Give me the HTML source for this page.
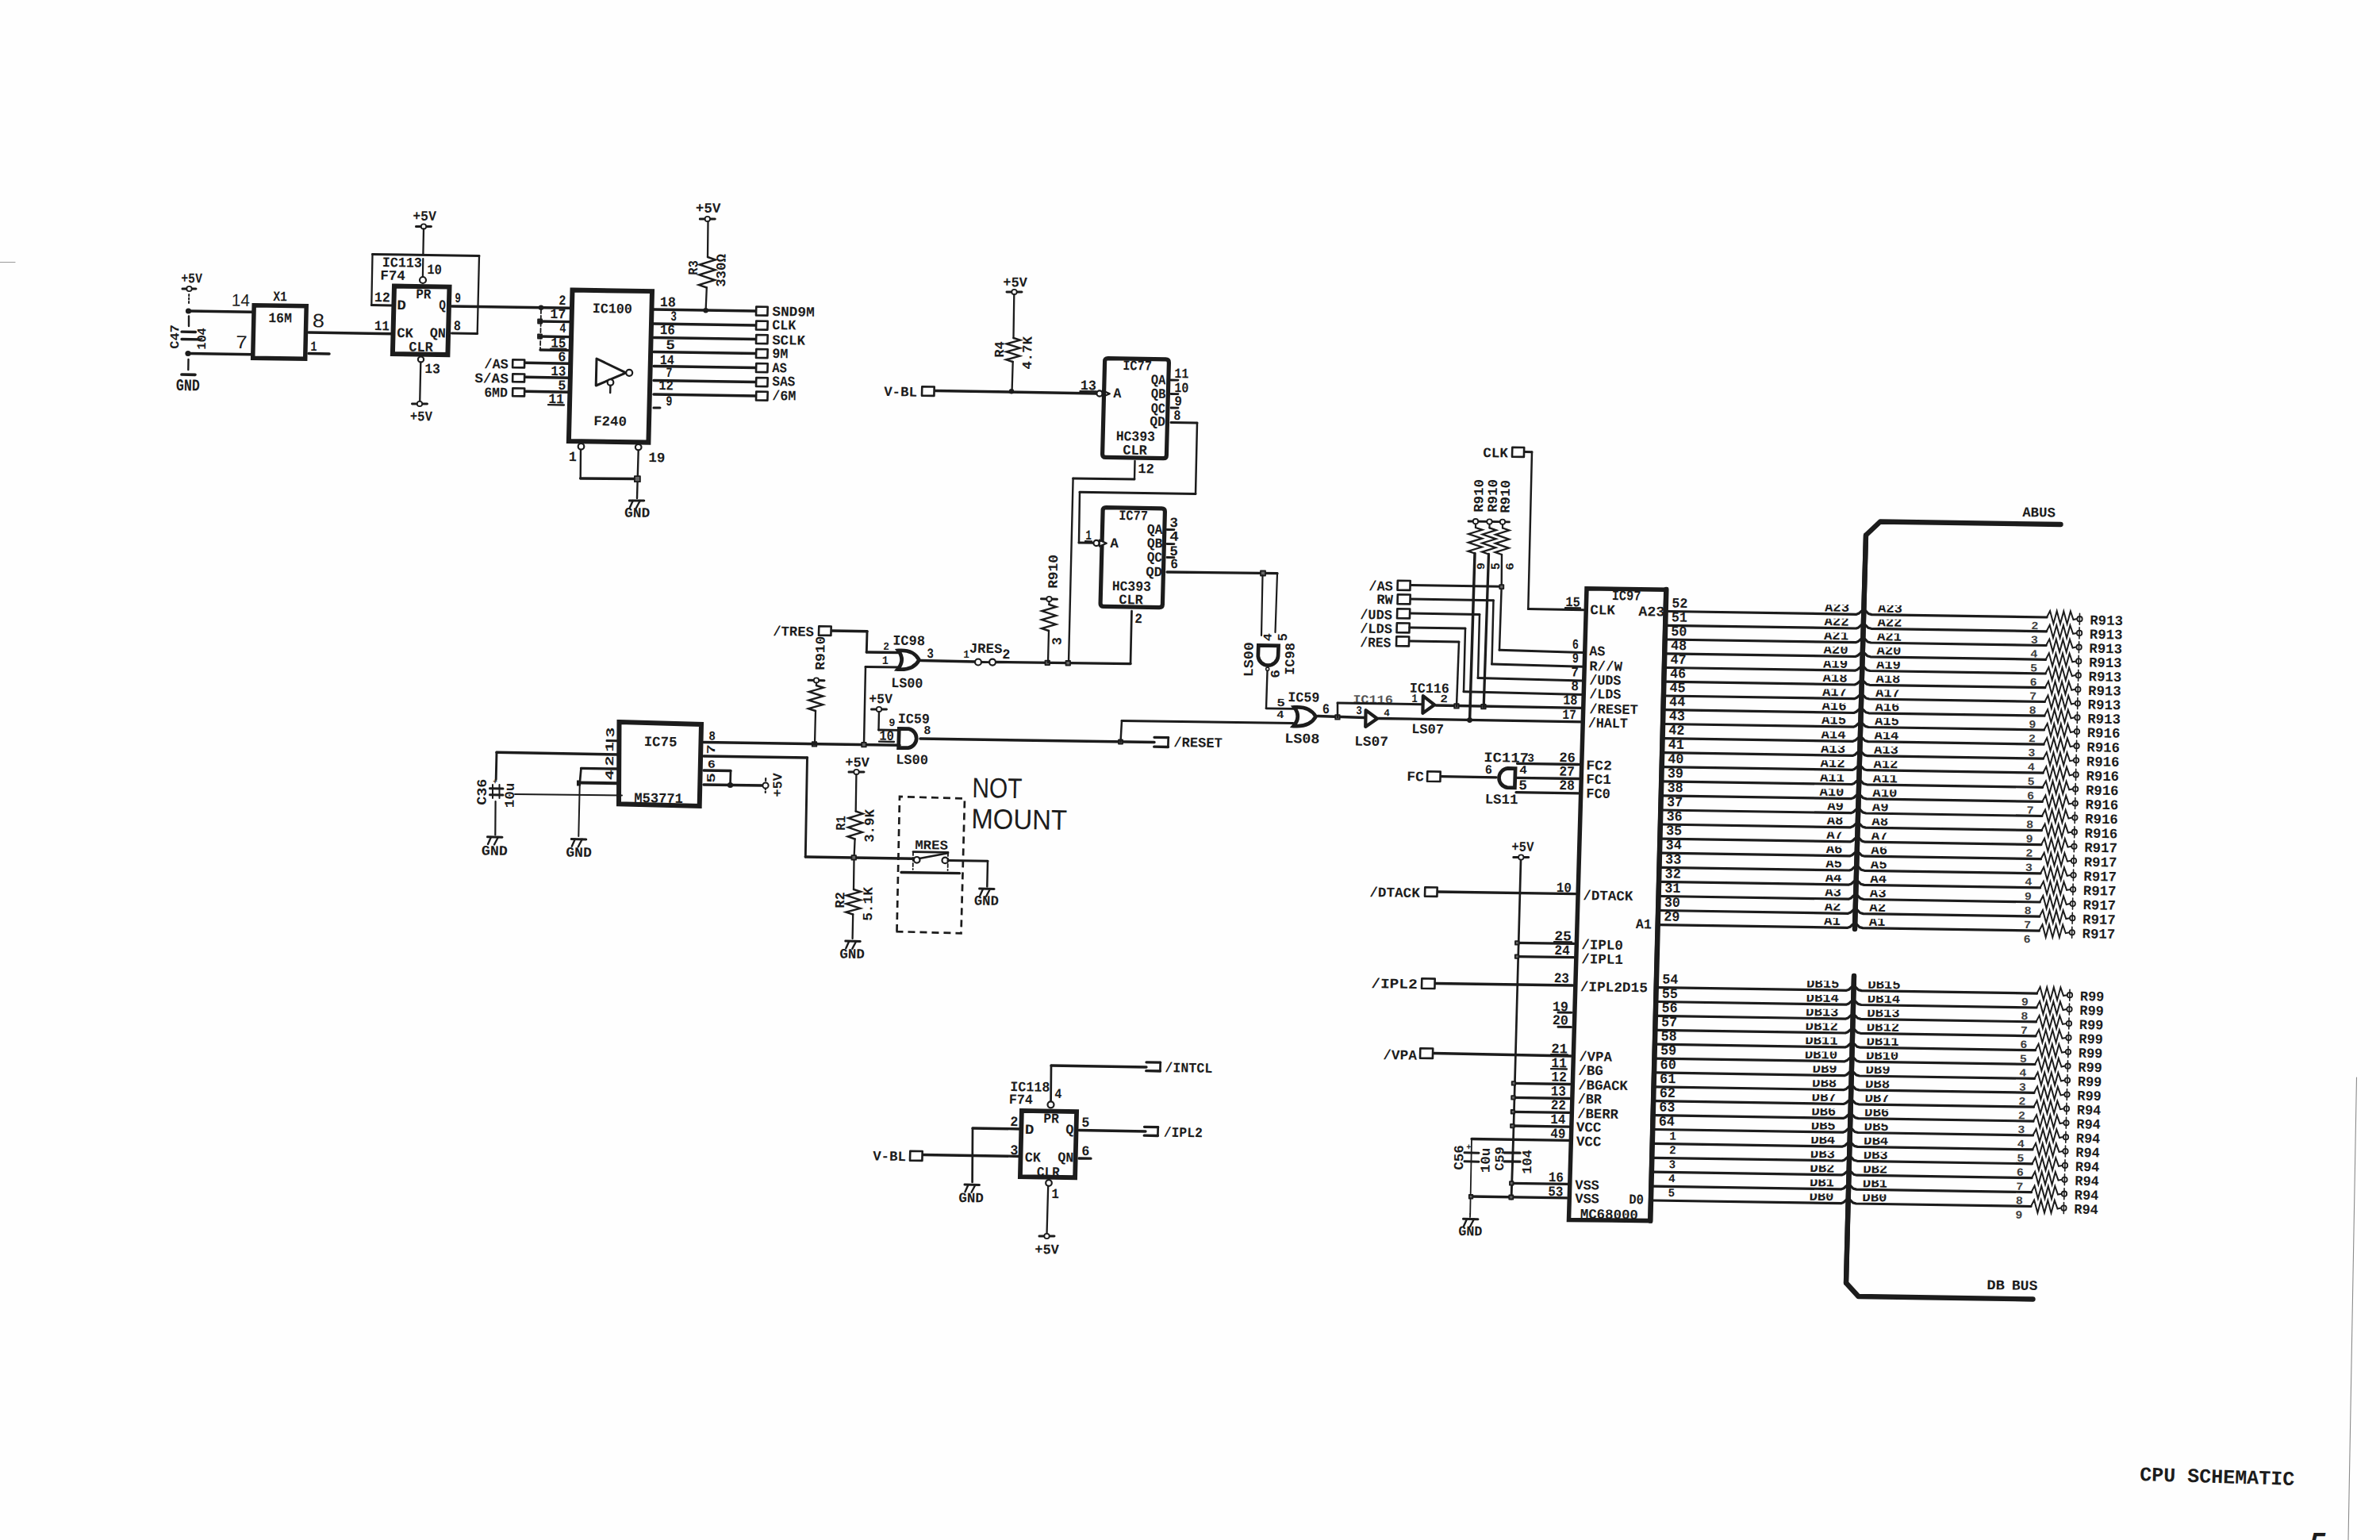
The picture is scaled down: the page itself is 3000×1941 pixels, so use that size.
<!DOCTYPE html>
<html><head><meta charset="utf-8"><title>CPU SCHEMATIC</title>
<style>html,body{margin:0;padding:0;background:#fefefe}svg{display:block}
text{fill:#1c1c1c;stroke:none;font-family:"Liberation Mono",monospace;font-weight:bold}</style></head>
<body><svg width="3000" height="1941" viewBox="0 0 3000 1941">
<rect width="3000" height="1941" fill="#fefefe"/>
<g fill="none" stroke="#1c1c1c" stroke-linecap="round" stroke-linejoin="round">
<text x="228.2" y="356" font-size="17.5" textLength="26.6" lengthAdjust="spacingAndGlyphs" transform="rotate(0.9 229 356)">+5V</text>
<path d="M230 363.9L247 364.1" stroke-width="3"/>
<circle cx="238.5" cy="364" r="3.2" stroke-width="1.8" fill="#fff"/>
<path d="M238.2 371L238 384" stroke-width="2" stroke-dasharray="2 2.5"/>
<circle cx="237.5" cy="392" r="3.6" fill="#1c1c1c" stroke="none"/>
<path d="M237.5 392L318 393.3" stroke-width="3.5"/>
<path d="M320.2 384.8L386.2 385.8L384.7 452.3L318.7 451.2Z" stroke-width="5.5" fill="none" stroke-linejoin="miter"/>
<text x="291.7" y="385.5" font-size="21.5" textLength="23.1" lengthAdjust="spacingAndGlyphs" style="font-family:'Liberation Sans';font-weight:normal;" transform="rotate(0.9 292.5 385.5)">14</text>
<text x="344.2" y="379" font-size="17.5" textLength="17.6" lengthAdjust="spacingAndGlyphs" transform="rotate(0.9 345 379)">X1</text>
<text x="338.2" y="406" font-size="17.5" textLength="29.6" lengthAdjust="spacingAndGlyphs" transform="rotate(0.9 339 406)">16M</text>
<text x="393.7" y="412.2" font-size="24" textLength="15.1" lengthAdjust="spacingAndGlyphs" style="font-family:'Liberation Sans';font-weight:normal;" transform="rotate(0.9 394.5 412.2)">8</text>
<text x="297.2" y="439" font-size="23" textLength="14.3" lengthAdjust="spacingAndGlyphs" style="font-family:'Liberation Sans';font-weight:normal;" transform="rotate(0.9 298 439)">7</text>
<text x="391.2" y="442" font-size="17.5" textLength="8.2" lengthAdjust="spacingAndGlyphs" transform="rotate(0.9 392 442)">1</text>
<path d="M389 419L495 420.7" stroke-width="3.5"/>
<path d="M389 445.5L415 445.9" stroke-width="3.5"/>
<circle cx="237" cy="445.5" r="3.6" fill="#1c1c1c" stroke="none"/>
<path d="M237 445.5L318 446.8" stroke-width="3.5"/>
<path d="M238 398.5L238 411" stroke-width="2.4"/>
<path d="M229 418.2L246.5 418.5" stroke-width="3.3"/>
<path d="M229 427.5L252 427.9" stroke-width="3.3"/>
<text transform="translate(225 439.8) rotate(-89.2)" font-size="16" textLength="30.6" lengthAdjust="spacingAndGlyphs">C47</text>
<text transform="translate(259 440.8) rotate(-89.2)" font-size="16" textLength="27.6" lengthAdjust="spacingAndGlyphs">104</text>
<path d="M237.5 453L237.3 466" stroke-width="2.4"/>
<path d="M229 472L246 472.3" stroke-width="3.7"/>
<text x="221.8" y="492" font-size="21" textLength="30" lengthAdjust="spacingAndGlyphs" transform="rotate(0.9 222.6 492)">GND</text>
<text x="520.2" y="277.5" font-size="17.5" textLength="29.6" lengthAdjust="spacingAndGlyphs" transform="rotate(0.9 521 277.5)">+5V</text>
<path d="M524.5 285.4L543.5 285.6" stroke-width="3"/>
<circle cx="534" cy="285.5" r="3.2" stroke-width="1.8" fill="#fff"/>
<path d="M534 288.5L533.4 320" stroke-width="2.3"/>
<path d="M469.5 320.5L604 322.5" stroke-width="3"/>
<path d="M469.5 320.5L468.3 384.5" stroke-width="2.3"/>
<path d="M468.3 384.5L494 385" stroke-width="3"/>
<path d="M604 322.5L601.7 420.5" stroke-width="2.3"/>
<path d="M601.7 420.5L569.5 420" stroke-width="3"/>
<path d="M533.3 326L532.9 349" stroke-width="2.2"/>
<circle cx="533" cy="353" r="4" stroke-width="2.2" fill="#fff"/>
<path d="M497 360.5L566.5 361.6L564.4 447.1L494.9 446Z" stroke-width="6" fill="none" stroke-linejoin="miter"/>
<text x="481.7" y="336" font-size="17.5" textLength="50.1" lengthAdjust="spacingAndGlyphs" transform="rotate(0.9 482.5 336)">IC113</text>
<text x="479.2" y="352.5" font-size="17.5" textLength="31.6" lengthAdjust="spacingAndGlyphs" transform="rotate(0.9 480 352.5)">F74</text>
<text x="538.2" y="345" font-size="17.5" textLength="18.6" lengthAdjust="spacingAndGlyphs" transform="rotate(0.9 539 345)">10</text>
<text x="471.7" y="380" font-size="17.5" textLength="20.1" lengthAdjust="spacingAndGlyphs" transform="rotate(0.9 472.5 380)">12</text>
<text x="524.2" y="376" font-size="17.5" textLength="19.1" lengthAdjust="spacingAndGlyphs" transform="rotate(0.9 525 376)">PR</text>
<text x="500.2" y="390" font-size="17.5" textLength="11.6" lengthAdjust="spacingAndGlyphs" transform="rotate(0.9 501 390)">D</text>
<text x="553.2" y="390" font-size="17.5" textLength="8.6" lengthAdjust="spacingAndGlyphs" transform="rotate(0.9 554 390)">Q</text>
<text x="573.2" y="381" font-size="17.5" textLength="7.6" lengthAdjust="spacingAndGlyphs" transform="rotate(0.9 574 381)">9</text>
<text x="471.7" y="416" font-size="17.5" textLength="19.1" lengthAdjust="spacingAndGlyphs" transform="rotate(0.9 472.5 416)">11</text>
<text x="500.2" y="425" font-size="17.5" textLength="20.6" lengthAdjust="spacingAndGlyphs" transform="rotate(0.9 501 425)">CK</text>
<text x="541.7" y="425" font-size="17.5" textLength="20.1" lengthAdjust="spacingAndGlyphs" transform="rotate(0.9 542.5 425)">QN</text>
<text x="571.7" y="416" font-size="17.5" textLength="9.1" lengthAdjust="spacingAndGlyphs" transform="rotate(0.9 572.5 416)">8</text>
<text x="515.2" y="442.5" font-size="17.5" textLength="30.6" lengthAdjust="spacingAndGlyphs" transform="rotate(0.9 516 442.5)">CLR</text>
<circle cx="530.5" cy="453" r="3.6" stroke-width="2.2" fill="#fff"/>
<path d="M530.3 456.5L529.2 507.5" stroke-width="2.3"/>
<text x="535.2" y="470" font-size="17.5" textLength="19.6" lengthAdjust="spacingAndGlyphs" transform="rotate(0.9 536 470)">13</text>
<path d="M519.5 508.9L538.5 509.1" stroke-width="3"/>
<circle cx="529" cy="509" r="3.2" stroke-width="1.8" fill="#fff"/>
<text x="516.7" y="530" font-size="17.5" textLength="28.1" lengthAdjust="spacingAndGlyphs" transform="rotate(0.9 517.5 530)">+5V</text>
<path d="M569.5 386L719 388.3" stroke-width="3.5"/>
<path d="M721.5 365.5L822 367.1L817.4 557.6L716.9 556Z" stroke-width="6" fill="none" stroke-linejoin="miter"/>
<circle cx="682" cy="387.7" r="3.2" fill="#1c1c1c" stroke="none"/>
<rect x="678.1" y="402.5" width="5" height="5" fill="#666" stroke-width="1.8"/>
<path d="M680.5 405L718 405.6" stroke-width="3.3"/>
<rect x="678" y="421.5" width="5" height="5" fill="#666" stroke-width="1.8"/>
<path d="M680.5 424L718 424.6" stroke-width="3.3"/>
<path d="M681 441L718 441.6" stroke-width="3.3"/>
<path d="M682 390L681 441" stroke-width="1.8" stroke-dasharray="5 3"/>
<text x="704.2" y="384" font-size="17.5" textLength="9.1" lengthAdjust="spacingAndGlyphs" transform="rotate(0.9 705 384)">2</text>
<text x="693.2" y="401" font-size="17.5" textLength="20.1" lengthAdjust="spacingAndGlyphs" transform="rotate(0.9 694 401)">17</text>
<text x="705.2" y="419" font-size="17.5" textLength="8.1" lengthAdjust="spacingAndGlyphs" transform="rotate(0.9 706 419)">4</text>
<text x="694.2" y="437.5" font-size="17.5" textLength="19.1" lengthAdjust="spacingAndGlyphs" transform="rotate(0.9 695 437.5)">15</text>
<path d="M694 439.7L713.5 440" stroke-width="2.3"/>
<text x="703.2" y="455" font-size="17.5" textLength="10.1" lengthAdjust="spacingAndGlyphs" transform="rotate(0.9 704 455)">6</text>
<text x="694.2" y="473" font-size="17.5" textLength="19.1" lengthAdjust="spacingAndGlyphs" transform="rotate(0.9 695 473)">13</text>
<text x="703.2" y="491" font-size="17.5" textLength="10.1" lengthAdjust="spacingAndGlyphs" transform="rotate(0.9 704 491)">5</text>
<text x="691.2" y="508" font-size="17.5" textLength="19.6" lengthAdjust="spacingAndGlyphs" transform="rotate(0.9 692 508)">11</text>
<path d="M691 510.2L711 510.5" stroke-width="2.3"/>
<path d="M662.5 457.3L718 458.2" stroke-width="3.5"/>
<path d="M662.5 475.3L718 476.2" stroke-width="3.5"/>
<path d="M662.5 493.3L718 494.2" stroke-width="3.5"/>
<path d="M646.3 453.3L661.2 453.5L661 463.4L646.1 463.2Z" stroke-width="2.6" fill="none" stroke-linejoin="round"/>
<path d="M646.3 471.3L661.2 471.5L661 481.4L646.1 481.2Z" stroke-width="2.6" fill="none" stroke-linejoin="round"/>
<path d="M646.3 489.3L661.2 489.5L661 499.4L646.1 499.2Z" stroke-width="2.6" fill="none" stroke-linejoin="round"/>
<text x="610.2" y="464" font-size="17.5" textLength="30.6" lengthAdjust="spacingAndGlyphs" transform="rotate(0.9 611 464)">/AS</text>
<text x="598.2" y="482" font-size="17.5" textLength="42.6" lengthAdjust="spacingAndGlyphs" transform="rotate(0.9 599 482)">S/AS</text>
<text x="610.2" y="500" font-size="17.5" textLength="29.6" lengthAdjust="spacingAndGlyphs" transform="rotate(0.9 611 500)">6MD</text>
<text x="746.7" y="394" font-size="17.5" textLength="50.1" lengthAdjust="spacingAndGlyphs" transform="rotate(0.9 747.5 394)">IC100</text>
<path d="M752 452L751.2 486L789 469.8Z" stroke-width="3" fill="none" stroke-linejoin="round"/>
<circle cx="793.2" cy="469.8" r="4" stroke-width="2.2" fill="#fff"/>
<circle cx="769.5" cy="482" r="3.8" stroke-width="2.2" fill="#fff"/>
<path d="M769.4 486L769.2 495" stroke-width="2.4"/>
<text x="748.2" y="536" font-size="17.5" textLength="41.6" lengthAdjust="spacingAndGlyphs" transform="rotate(0.9 749 536)">F240</text>
<path d="M824 390L952 392" stroke-width="3.5"/>
<path d="M824 408L952 410" stroke-width="3.5"/>
<path d="M824 425.5L952 427.5" stroke-width="3.5"/>
<path d="M824 443.5L952 445.5" stroke-width="3.5"/>
<path d="M824 461.5L952 463.5" stroke-width="3.5"/>
<path d="M824 479.5L952 481.5" stroke-width="3.5"/>
<path d="M824 497L952 499" stroke-width="3.5"/>
<path d="M824 514L832 514.1" stroke-width="3"/>
<path d="M953.3 386.5L967.7 386.7L967.4 397.6L953 397.4Z" stroke-width="2.6" fill="none" stroke-linejoin="round"/>
<path d="M953.3 404.5L967.7 404.7L967.4 415.6L953 415.4Z" stroke-width="2.6" fill="none" stroke-linejoin="round"/>
<path d="M953.3 422L967.7 422.2L967.4 433.1L953 432.9Z" stroke-width="2.6" fill="none" stroke-linejoin="round"/>
<path d="M953.3 440L967.7 440.2L967.4 451.1L953 450.9Z" stroke-width="2.6" fill="none" stroke-linejoin="round"/>
<path d="M953.3 458L967.7 458.2L967.4 469.1L953 468.9Z" stroke-width="2.6" fill="none" stroke-linejoin="round"/>
<path d="M953.3 476L967.7 476.2L967.4 487.1L953 486.9Z" stroke-width="2.6" fill="none" stroke-linejoin="round"/>
<path d="M953.3 493.5L967.7 493.7L967.4 504.6L953 504.4Z" stroke-width="2.6" fill="none" stroke-linejoin="round"/>
<text x="831.7" y="386" font-size="17.5" textLength="20.1" lengthAdjust="spacingAndGlyphs" transform="rotate(0.9 832.5 386)">18</text>
<text x="845.2" y="404" font-size="17.5" textLength="7.6" lengthAdjust="spacingAndGlyphs" transform="rotate(0.9 846 404)">3</text>
<text x="831.7" y="421" font-size="17.5" textLength="19.1" lengthAdjust="spacingAndGlyphs" transform="rotate(0.9 832.5 421)">16</text>
<text x="839.2" y="440" font-size="17.5" textLength="11.6" lengthAdjust="spacingAndGlyphs" transform="rotate(0.9 840 440)">5</text>
<text x="831.7" y="459" font-size="17.5" textLength="18.1" lengthAdjust="spacingAndGlyphs" transform="rotate(0.9 832.5 459)">14</text>
<text x="839.2" y="475" font-size="17.5" textLength="8.1" lengthAdjust="spacingAndGlyphs" transform="rotate(0.9 840 475)">7</text>
<text x="830.2" y="491" font-size="17.5" textLength="18.6" lengthAdjust="spacingAndGlyphs" transform="rotate(0.9 831 491)">12</text>
<text x="839.2" y="511" font-size="17.5" textLength="8.1" lengthAdjust="spacingAndGlyphs" transform="rotate(0.9 840 511)">9</text>
<text x="973.2" y="398" font-size="17.5" textLength="53.6" lengthAdjust="spacingAndGlyphs" transform="rotate(0.9 974 398)">SND9M</text>
<text x="973.2" y="415" font-size="17.5" textLength="30.1" lengthAdjust="spacingAndGlyphs" transform="rotate(0.9 974 415)">CLK</text>
<text x="973.2" y="434" font-size="17.5" textLength="41.6" lengthAdjust="spacingAndGlyphs" transform="rotate(0.9 974 434)">SCLK</text>
<text x="973.2" y="451" font-size="17.5" textLength="20.1" lengthAdjust="spacingAndGlyphs" transform="rotate(0.9 974 451)">9M</text>
<text x="973.2" y="469" font-size="17.5" textLength="18.6" lengthAdjust="spacingAndGlyphs" transform="rotate(0.9 974 469)">AS</text>
<text x="973.2" y="486" font-size="17.5" textLength="29.1" lengthAdjust="spacingAndGlyphs" transform="rotate(0.9 974 486)">SAS</text>
<text x="973.2" y="504" font-size="17.5" textLength="30.1" lengthAdjust="spacingAndGlyphs" transform="rotate(0.9 974 504)">/6M</text>
<circle cx="732.5" cy="562.8" r="3.8" stroke-width="2.2" fill="#fff"/>
<path d="M732 567L731.7 603" stroke-width="2.4"/>
<circle cx="804.7" cy="563.6" r="3.8" stroke-width="2.2" fill="#fff"/>
<path d="M804.7 568L803 628" stroke-width="2.4"/>
<path d="M731.7 603L800.5 603.6" stroke-width="3.5"/>
<rect x="799.9" y="600.2" width="7" height="7" fill="#666" stroke-width="1.8"/>
<path d="M793.3 630.9L811.8 631.1" stroke-width="3"/>
<path d="M797.8 631L793.8 640" stroke-width="2.4"/>
<path d="M806.8 631L801.8 640.5" stroke-width="2.4"/>
<text x="787" y="651.5" font-size="17.5" textLength="32.1" lengthAdjust="spacingAndGlyphs" transform="rotate(0.9 787.8 651.5)">GND</text>
<text x="716.7" y="581" font-size="17.5" textLength="10.1" lengthAdjust="spacingAndGlyphs" transform="rotate(0.9 717.5 581)">1</text>
<text x="817.2" y="582" font-size="17.5" textLength="21.1" lengthAdjust="spacingAndGlyphs" transform="rotate(0.9 818 582)">19</text>
<text x="876.7" y="267.5" font-size="17.5" textLength="31.6" lengthAdjust="spacingAndGlyphs" transform="rotate(0.9 877.5 267.5)">+5V</text>
<path d="M882.3 275.9L901.3 276.1" stroke-width="3"/>
<circle cx="891.8" cy="276" r="3.2" stroke-width="1.8" fill="#fff"/>
<path d="M892.5 279L892 324" stroke-width="2.3"/>
<path d="M892 324L901.9 327.4L881.7 333.5L901.5 340.2L881.3 346.3L901.1 353L880.9 359.1L890.8 362.5" stroke-width="2.4" fill="none" stroke-linejoin="miter"/>
<path d="M890.8 362.5L889.6 391" stroke-width="2.3"/>
<circle cx="889.6" cy="391.2" r="3.2" fill="#1c1c1c" stroke="none"/>
<text transform="translate(879 346.8) rotate(-89.2)" font-size="17" textLength="18.6" lengthAdjust="spacingAndGlyphs">R3</text>
<text transform="translate(914 361.8) rotate(-89.2)" font-size="17" textLength="41.6" lengthAdjust="spacingAndGlyphs">330Ω</text>
<text x="1114.2" y="499" font-size="17.5" textLength="41.6" lengthAdjust="spacingAndGlyphs" transform="rotate(0.9 1115 499)">V-BL</text>
<path d="M1162.3 487.3L1177.7 487.5L1177.4 498.9L1162 498.7Z" stroke-width="2.6" fill="none" stroke-linejoin="round"/>
<path d="M1179 492.5L1382.5 496" stroke-width="3.5"/>
<circle cx="1275" cy="493.2" r="3.2" fill="#1c1c1c" stroke="none"/>
<text x="1264.2" y="361" font-size="17.5" textLength="30.6" lengthAdjust="spacingAndGlyphs" transform="rotate(0.9 1265 361)">+5V</text>
<path d="M1269 367.9L1288 368.1" stroke-width="3"/>
<circle cx="1278.5" cy="368" r="3.2" stroke-width="1.8" fill="#fff"/>
<path d="M1278.3 371L1277.5 426" stroke-width="2.3"/>
<path d="M1277.5 426L1285.9 428.6L1268.8 433.4L1285.7 438.6L1268.5 443.4L1285.4 448.6L1268.3 453.4L1276.7 456" stroke-width="2.4" fill="none" stroke-linejoin="miter"/>
<path d="M1276.7 456L1275.6 492.5" stroke-width="2.3"/>
<text transform="translate(1265 450.8) rotate(-89.2)" font-size="17" textLength="20.6" lengthAdjust="spacingAndGlyphs">R4</text>
<text transform="translate(1300 465.8) rotate(-89.2)" font-size="17" textLength="41.6" lengthAdjust="spacingAndGlyphs">4.7K</text>
<circle cx="1386" cy="496" r="3.6" stroke-width="2.2" fill="#fff"/>
<path d="M1389.8 492.2L1398.8 496.2L1389.8 500Z" stroke-width="2.2" fill="#fff" stroke-linejoin="round"/>
<text x="1361.7" y="491" font-size="17.5" textLength="20.1" lengthAdjust="spacingAndGlyphs" transform="rotate(0.9 1362.5 491)">13</text>
<path d="M1361.5 493.2L1382 493.5" stroke-width="2.3"/>
<path d="M1396.6 451.6 L1469.4 452.9 Q1473.4 452.9 1473.4 456.9 L1470.4 573.7 Q1470.4 577.7 1466.4 577.7 L1393.6 576.4 Q1389.6 576.4 1389.6 572.4 L1392.6 455.6 Q1392.6 451.6 1396.6 451.6Z" stroke-width="5.2"/>
<text x="1415.2" y="466" font-size="17.5" textLength="36.6" lengthAdjust="spacingAndGlyphs" transform="rotate(0.9 1416 466)">IC77</text>
<text x="1450.7" y="484" font-size="17.5" textLength="18.6" lengthAdjust="spacingAndGlyphs" transform="rotate(0.9 1451.5 484)">QA</text>
<text x="1450.7" y="501.5" font-size="17.5" textLength="18.6" lengthAdjust="spacingAndGlyphs" transform="rotate(0.9 1451.5 501.5)">QB</text>
<text x="1450.7" y="520" font-size="17.5" textLength="18.1" lengthAdjust="spacingAndGlyphs" transform="rotate(0.9 1451.5 520)">QC</text>
<text x="1449.2" y="536.5" font-size="17.5" textLength="19.6" lengthAdjust="spacingAndGlyphs" transform="rotate(0.9 1450 536.5)">QD</text>
<text x="1403.2" y="501" font-size="17.5" textLength="10.1" lengthAdjust="spacingAndGlyphs" transform="rotate(0.9 1404 501)">A</text>
<text x="1480.2" y="476" font-size="17.5" textLength="18.1" lengthAdjust="spacingAndGlyphs" transform="rotate(0.9 1481 476)">11</text>
<path d="M1476 479L1485 479.1" stroke-width="2.8"/>
<text x="1480.2" y="494" font-size="17.5" textLength="18.1" lengthAdjust="spacingAndGlyphs" transform="rotate(0.9 1481 494)">10</text>
<path d="M1476 496.5L1485 496.6" stroke-width="2.8"/>
<text x="1480.2" y="511" font-size="17.5" textLength="9.6" lengthAdjust="spacingAndGlyphs" transform="rotate(0.9 1481 511)">9</text>
<path d="M1476 514L1485 514.1" stroke-width="2.8"/>
<text x="1479.2" y="529" font-size="17.5" textLength="9.1" lengthAdjust="spacingAndGlyphs" transform="rotate(0.9 1480 529)">8</text>
<path d="M1476 532.5L1509 533" stroke-width="3"/>
<path d="M1509 533L1507 622.5" stroke-width="2.5"/>
<path d="M1507 622.5L1361 620.3" stroke-width="3"/>
<path d="M1361 620.3L1360 684" stroke-width="2.5"/>
<path d="M1360 684L1379 684.3" stroke-width="3"/>
<text x="1406.7" y="555" font-size="17.5" textLength="49.1" lengthAdjust="spacingAndGlyphs" transform="rotate(0.9 1407.5 555)">HC393</text>
<text x="1415.2" y="572.5" font-size="17.5" textLength="30.6" lengthAdjust="spacingAndGlyphs" transform="rotate(0.9 1416 572.5)">CLR</text>
<text x="1434.2" y="596" font-size="17.5" textLength="20.6" lengthAdjust="spacingAndGlyphs" transform="rotate(0.9 1435 596)">12</text>
<path d="M1430.5 581L1430 604" stroke-width="2.4"/>
<path d="M1430 604L1352.6 603" stroke-width="2.8"/>
<path d="M1352.6 603L1347 835.5" stroke-width="2.4"/>
<path d="M1394.1 639.6 L1464.4 640.8 Q1468.4 640.8 1468.4 644.8 L1465.4 761.6 Q1465.4 765.6 1461.4 765.6 L1391.1 764.4 Q1387.1 764.4 1387.1 760.4 L1390.1 643.6 Q1390.1 639.6 1394.1 639.6Z" stroke-width="5.2"/>
<text x="1410.2" y="655" font-size="17.5" textLength="36.6" lengthAdjust="spacingAndGlyphs" transform="rotate(0.9 1411 655)">IC77</text>
<text x="1445.7" y="672.5" font-size="17.5" textLength="19.6" lengthAdjust="spacingAndGlyphs" transform="rotate(0.9 1446.5 672.5)">QA</text>
<text x="1445.7" y="690" font-size="17.5" textLength="19.6" lengthAdjust="spacingAndGlyphs" transform="rotate(0.9 1446.5 690)">QB</text>
<text x="1445.7" y="707.5" font-size="17.5" textLength="19.1" lengthAdjust="spacingAndGlyphs" transform="rotate(0.9 1446.5 707.5)">QC</text>
<text x="1444.2" y="726" font-size="17.5" textLength="20.6" lengthAdjust="spacingAndGlyphs" transform="rotate(0.9 1445 726)">QD</text>
<text x="1474.2" y="664" font-size="17.5" textLength="10.6" lengthAdjust="spacingAndGlyphs" transform="rotate(0.9 1475 664)">3</text>
<path d="M1471 667.5L1480 667.6" stroke-width="2.8"/>
<text x="1474.2" y="681.5" font-size="17.5" textLength="11.6" lengthAdjust="spacingAndGlyphs" transform="rotate(0.9 1475 681.5)">4</text>
<path d="M1471 685.5L1480 685.6" stroke-width="2.8"/>
<text x="1474.2" y="700" font-size="17.5" textLength="10.6" lengthAdjust="spacingAndGlyphs" transform="rotate(0.9 1475 700)">5</text>
<path d="M1471 702.5L1480 702.6" stroke-width="2.8"/>
<text x="1475.2" y="716" font-size="17.5" textLength="9.6" lengthAdjust="spacingAndGlyphs" transform="rotate(0.9 1476 716)">6</text>
<path d="M1471 721L1610 722.7" stroke-width="3.3"/>
<rect x="1589" y="719.5" width="6" height="6" fill="#666" stroke-width="1.8"/>
<path d="M1591.5 725L1590 801" stroke-width="2.2"/>
<path d="M1610 722.7L1607.5 797" stroke-width="2.2"/>
<text x="1368.2" y="680" font-size="17.5" textLength="7.6" lengthAdjust="spacingAndGlyphs" transform="rotate(0.9 1369 680)">1</text>
<path d="M1368 682.2L1376 682.3" stroke-width="2.3"/>
<circle cx="1382" cy="684.5" r="3.6" stroke-width="2.2" fill="#fff"/>
<path d="M1385.8 680.7L1394.8 684.7L1385.8 688.5Z" stroke-width="2.2" fill="#fff" stroke-linejoin="round"/>
<text x="1399.2" y="690" font-size="17.5" textLength="10.6" lengthAdjust="spacingAndGlyphs" transform="rotate(0.9 1400 690)">A</text>
<text x="1401.7" y="744" font-size="17.5" textLength="49.1" lengthAdjust="spacingAndGlyphs" transform="rotate(0.9 1402.5 744)">HC393</text>
<text x="1410.2" y="761" font-size="17.5" textLength="30.6" lengthAdjust="spacingAndGlyphs" transform="rotate(0.9 1411 761)">CLR</text>
<text x="1430.2" y="785" font-size="17.5" textLength="9.6" lengthAdjust="spacingAndGlyphs" transform="rotate(0.9 1431 785)">2</text>
<path d="M1426.5 770L1425 836.6" stroke-width="2.7"/>
<path d="M1425 836.6L1256 834.5" stroke-width="3.3"/>
<rect x="1343.5" y="833" width="5.5" height="5.5" fill="#666" stroke-width="1.8"/>
<rect x="1317.5" y="832.6" width="5.5" height="5.5" fill="#666" stroke-width="1.8"/>
<text transform="translate(1332.5 741.8) rotate(-89.2)" font-size="17" textLength="42.6" lengthAdjust="spacingAndGlyphs">R910</text>
<path d="M1312.5 754.8L1332.5 755.2" stroke-width="3"/>
<circle cx="1322.5" cy="755" r="3.2" stroke-width="1.8" fill="#fff"/>
<path d="M1322.5 758L1322.4 762" stroke-width="2.2"/>
<path d="M1322.4 762L1331.4 764.9L1313.3 770.1L1331.2 775.9L1313.2 781.1L1331.1 786.9L1313 792.1L1322 795" stroke-width="2.4" fill="none" stroke-linejoin="miter"/>
<path d="M1322 795L1321 835" stroke-width="2.3"/>
<text transform="translate(1337.5 813.3) rotate(-89.2)" font-size="17" textLength="10.1" lengthAdjust="spacingAndGlyphs">3</text>
<text x="974.2" y="801" font-size="17.5" textLength="51.6" lengthAdjust="spacingAndGlyphs" transform="rotate(0.9 975 801)">/TRES</text>
<path d="M1032.3 789.3L1047.7 789.5L1047.4 800.9L1032 800.7Z" stroke-width="2.6" fill="none" stroke-linejoin="round"/>
<path d="M1049 795L1093 795.7" stroke-width="3.5"/>
<path d="M1093 795.7L1092.3 822" stroke-width="2.9"/>
<path d="M1092.3 822L1134 822.6" stroke-width="3.5"/>
<path d="M1132.3 819.9 Q1151.3 818.4 1158.6 831.8 Q1151.3 845.1 1131.6 843.6 Q1141.3 831.8 1132.3 819.9 Q1132.3 819.9 1132.3 819.9Z" stroke-width="4.7" stroke-linejoin="miter"/>
<text x="1125.2" y="812.5" font-size="17.5" textLength="40.6" lengthAdjust="spacingAndGlyphs" transform="rotate(0.9 1126 812.5)">IC98</text>
<text x="1113.2" y="819" font-size="14" textLength="7.6" lengthAdjust="spacingAndGlyphs" transform="rotate(0.9 1114 819)">2</text>
<text x="1111.7" y="837" font-size="15" textLength="8.1" lengthAdjust="spacingAndGlyphs" transform="rotate(0.9 1112.5 837)">1</text>
<text x="1168.2" y="829" font-size="17.5" textLength="8.6" lengthAdjust="spacingAndGlyphs" transform="rotate(0.9 1169 829)">3</text>
<text x="1123.2" y="866" font-size="17.5" textLength="40.1" lengthAdjust="spacingAndGlyphs" transform="rotate(0.9 1124 866)">LS00</text>
<path d="M1134 841L1091 840.5" stroke-width="3"/>
<path d="M1091 840.5L1089 938" stroke-width="2.5"/>
<path d="M1161 832.5L1229 834" stroke-width="3.5"/>
<circle cx="1233" cy="834.5" r="4" stroke-width="2.2" fill="#fff"/>
<circle cx="1251" cy="834.6" r="4" stroke-width="2.2" fill="#fff"/>
<path d="M1237.2 834.5L1247 834.6" stroke-width="2.8"/>
<text x="1221.7" y="822.5" font-size="17.5" textLength="41.6" lengthAdjust="spacingAndGlyphs" transform="rotate(0.9 1222.5 822.5)">JRES</text>
<text x="1214.2" y="829" font-size="14" textLength="7.6" lengthAdjust="spacingAndGlyphs" transform="rotate(0.9 1215 829)">1</text>
<text x="1263.2" y="830" font-size="17.5" textLength="10.1" lengthAdjust="spacingAndGlyphs" transform="rotate(0.9 1264 830)">2</text>
<text transform="translate(1039 844.8) rotate(-89.2)" font-size="17" textLength="43.1" lengthAdjust="spacingAndGlyphs">R910</text>
<path d="M1019 857.3L1039 857.7" stroke-width="3"/>
<circle cx="1029" cy="857.5" r="3.2" stroke-width="1.8" fill="#fff"/>
<path d="M1029 860.5L1029 864" stroke-width="2.2"/>
<path d="M1029 864L1037.9 866.8L1019.8 871.9L1037.6 877.5L1019.4 882.5L1037.2 888.1L1019.1 893.2L1028 896" stroke-width="2.4" fill="none" stroke-linejoin="miter"/>
<path d="M1028 896L1027 938" stroke-width="2.3"/>
<rect x="1023.8" y="935.2" width="5.5" height="5.5" fill="#666" stroke-width="1.8"/>
<path d="M887 935.5L1134 939.3" stroke-width="3.5"/>
<rect x="1086.2" y="935.9" width="5.5" height="5.5" fill="#666" stroke-width="1.8"/>
<text x="1095.2" y="886" font-size="17.5" textLength="29.6" lengthAdjust="spacingAndGlyphs" transform="rotate(0.9 1096 886)">+5V</text>
<path d="M1098.5 893.9L1117.5 894.1" stroke-width="3"/>
<circle cx="1108" cy="894" r="3.2" stroke-width="1.8" fill="#fff"/>
<path d="M1108 897L1107.5 920" stroke-width="2.4"/>
<path d="M1107.5 920L1134 920.4" stroke-width="2.8"/>
<path d="M1133.3 918.4 L1145.5 918.6 A12.2 12.2 0 0 1 1144.8 942.6 L1132.6 942.6Z" stroke-width="4.7" stroke-linejoin="miter"/>
<text x="1131.7" y="911" font-size="17.5" textLength="40.1" lengthAdjust="spacingAndGlyphs" transform="rotate(0.9 1132.5 911)">IC59</text>
<text x="1120.2" y="915" font-size="14" textLength="8.1" lengthAdjust="spacingAndGlyphs" transform="rotate(0.9 1121 915)">9</text>
<text x="1108.2" y="932.5" font-size="17.5" textLength="18.6" lengthAdjust="spacingAndGlyphs" transform="rotate(0.9 1109 932.5)">10</text>
<path d="M1108 934.7L1127 935" stroke-width="2.3"/>
<text x="1164.2" y="925" font-size="15" textLength="9.1" lengthAdjust="spacingAndGlyphs" transform="rotate(0.9 1165 925)">8</text>
<text x="1129.2" y="962.5" font-size="17.5" textLength="40.6" lengthAdjust="spacingAndGlyphs" transform="rotate(0.9 1130 962.5)">LS00</text>
<path d="M1160 931L1455 935.5" stroke-width="3.5"/>
<path d="M1455 929.3L1472.7 929.6" stroke-width="3.3"/>
<path d="M1472.7 929.6L1472.4 941.5" stroke-width="2.7"/>
<path d="M1472.4 941.5L1454.7 941.2" stroke-width="3.3"/>
<text x="1479.2" y="941" font-size="17.5" textLength="61.6" lengthAdjust="spacingAndGlyphs" transform="rotate(0.9 1480 941)">/RESET</text>
<rect x="1410" y="932.5" width="5" height="5" fill="#666" stroke-width="1.8"/>
<path d="M1412.5 935L1414 908.5" stroke-width="2.5"/>
<path d="M1414 908.5L1630 911.6" stroke-width="3"/>
<path d="M1586.3 813.4 L1611.6 813.8 L1611.1 827 A12.7 12.7 0 0 1 1585.8 827 Z" stroke-width="4.7" stroke-linejoin="miter"/>
<circle cx="1597.7" cy="843.2" r="2" stroke-width="1.6" fill="#fff"/>
<text transform="translate(1579 853.3) rotate(-89.2)" font-size="17" textLength="44.1" lengthAdjust="spacingAndGlyphs">LS00</text>
<text transform="translate(1631 850.8) rotate(-89.2)" font-size="17" textLength="40.6" lengthAdjust="spacingAndGlyphs">IC98</text>
<text transform="translate(1602.5 808.3) rotate(-89.2)" font-size="15" textLength="10.1" lengthAdjust="spacingAndGlyphs">4</text>
<text transform="translate(1622 808.3) rotate(-89.2)" font-size="17" textLength="10.1" lengthAdjust="spacingAndGlyphs">5</text>
<text transform="translate(1612.5 854.8) rotate(-89.2)" font-size="16" textLength="10.6" lengthAdjust="spacingAndGlyphs">6</text>
<path d="M1597.5 846L1596 892.8" stroke-width="2.4"/>
<path d="M1596 892.8L1632 893.4" stroke-width="2.8"/>
<path d="M1631.3 891.4 Q1651 889.9 1658.6 903.2 Q1651 916.6 1630.6 915.1 Q1640.6 903.2 1631.3 891.4 Q1631.3 891.4 1631.3 891.4Z" stroke-width="4.7" stroke-linejoin="miter"/>
<text x="1623.2" y="884" font-size="17.5" textLength="40.1" lengthAdjust="spacingAndGlyphs" transform="rotate(0.9 1624 884)">IC59</text>
<text x="1609.2" y="890" font-size="14" textLength="10.6" lengthAdjust="spacingAndGlyphs" transform="rotate(0.9 1610 890)">5</text>
<text x="1609.2" y="905" font-size="14" textLength="9.1" lengthAdjust="spacingAndGlyphs" transform="rotate(0.9 1610 905)">4</text>
<text x="1666.7" y="899" font-size="17.5" textLength="9.1" lengthAdjust="spacingAndGlyphs" transform="rotate(0.9 1667.5 899)">6</text>
<text x="1619.2" y="936" font-size="17.5" textLength="44.1" lengthAdjust="spacingAndGlyphs" transform="rotate(0.9 1620 936)">LS08</text>
<path d="M1661 902.5L1720 904.5" stroke-width="3.3"/>
<rect x="1683.2" y="901.2" width="5.5" height="5.5" fill="#666" stroke-width="1.8"/>
<path d="M1686 904L1686 886" stroke-width="2.5"/>
<path d="M1686 886L1793 887.7" stroke-width="3"/>
<path d="M1793.8 877.1L1808.2 888.3L1793.4 898.9Z" stroke-width="4.2" fill="none" stroke-linejoin="round"/>
<text x="1776.7" y="872.5" font-size="17.5" textLength="50.1" lengthAdjust="spacingAndGlyphs" transform="rotate(0.9 1777.5 872.5)">IC116</text>
<text x="1779.2" y="885" font-size="15" textLength="7.6" lengthAdjust="spacingAndGlyphs" transform="rotate(0.9 1780 885)">1</text>
<text x="1815.2" y="885" font-size="14" textLength="9.6" lengthAdjust="spacingAndGlyphs" transform="rotate(0.9 1816 885)">2</text>
<text x="1779.2" y="924" font-size="17.5" textLength="40.6" lengthAdjust="spacingAndGlyphs" transform="rotate(0.9 1780 924)">LS07</text>
<path d="M1810 889L1995 892.3" stroke-width="3.3"/>
<rect x="1833.2" y="887.2" width="5.5" height="5.5" fill="#666" stroke-width="1.8"/>
<rect x="1867.2" y="887.9" width="5.5" height="5.5" fill="#666" stroke-width="1.8"/>
<path d="M1721.6 895.1L1736 905.8L1721.2 915.9Z" stroke-width="4.2" fill="none" stroke-linejoin="round"/>
<text x="1705.2" y="886" font-size="15" textLength="50.6" lengthAdjust="spacingAndGlyphs" transform="rotate(0.9 1706 886)" opacity="0.75">IC116</text>
<text x="1709.2" y="900" font-size="15" textLength="7.6" lengthAdjust="spacingAndGlyphs" transform="rotate(0.9 1710 900)">3</text>
<text x="1744.2" y="902.5" font-size="13" textLength="7.6" lengthAdjust="spacingAndGlyphs" transform="rotate(0.9 1745 902.5)">4</text>
<text x="1707.2" y="939.5" font-size="17.5" textLength="42.6" lengthAdjust="spacingAndGlyphs" transform="rotate(0.9 1708 939.5)">LS07</text>
<path d="M1737.5 905.5L1995 909.8" stroke-width="3.3"/>
<circle cx="1852.5" cy="907.6" r="3.4" fill="#1c1c1c" stroke="none"/>
<text x="1869.2" y="576" font-size="17.5" textLength="31.6" lengthAdjust="spacingAndGlyphs" transform="rotate(0.9 1870 576)">CLK</text>
<path d="M1906.3 563.8L1921.2 564L1920.9 575.9L1906 575.7Z" stroke-width="2.6" fill="none" stroke-linejoin="round"/>
<path d="M1922.5 569.5L1931 569.7" stroke-width="3"/>
<path d="M1931 569.7L1926.3 767.5" stroke-width="2.5"/>
<path d="M1926.3 767.5L1996 768.8" stroke-width="3"/>
<text transform="translate(1869 645.8) rotate(-89.2)" font-size="17" textLength="41.6" lengthAdjust="spacingAndGlyphs">R910</text>
<text transform="translate(1886.5 645.8) rotate(-89.2)" font-size="17" textLength="41.6" lengthAdjust="spacingAndGlyphs">R910</text>
<text transform="translate(1902.5 646.8) rotate(-89.2)" font-size="17" textLength="41.6" lengthAdjust="spacingAndGlyphs">R910</text>
<path d="M1851 657L1902.5 657.9" stroke-width="2.8"/>
<circle cx="1860" cy="657.2" r="3.2" stroke-width="1.8" fill="#fff"/>
<circle cx="1877.5" cy="657.5" r="3.2" stroke-width="1.8" fill="#fff"/>
<circle cx="1894" cy="657.8" r="3.2" stroke-width="1.8" fill="#fff"/>
<path d="M1860 660.5L1860 665" stroke-width="2.2"/>
<path d="M1877.5 660.8L1877.5 665.3" stroke-width="2.2"/>
<path d="M1894 661L1894 665.5" stroke-width="2.2"/>
<path d="M1860 665L1868.4 667.8L1851.2 673L1868.1 678.7L1850.9 683.8L1867.8 689.5L1850.6 694.7L1859 697.5" stroke-width="2.3" fill="none" stroke-linejoin="miter"/>
<path d="M1877.5 665.3L1885.9 668.2L1868.8 673.5L1885.6 679.3L1868.4 684.5L1885.2 690.3L1868.1 695.6L1876.5 698.5" stroke-width="2.3" fill="none" stroke-linejoin="miter"/>
<path d="M1894 665.5L1902.4 668.4L1885.2 673.7L1902.1 679.6L1884.9 684.9L1901.8 690.8L1884.6 696.1L1893 699" stroke-width="2.3" fill="none" stroke-linejoin="miter"/>
<path d="M1859 697.5L1852.6 907.5" stroke-width="3.5"/>
<path d="M1876.5 698.5L1870.2 891" stroke-width="3.3"/>
<path d="M1893 699L1892.7 740" stroke-width="2.4"/>
<text transform="translate(1871 718.3) rotate(-89.2)" font-size="14" textLength="9.1" lengthAdjust="spacingAndGlyphs">9</text>
<text transform="translate(1890 718.3) rotate(-89.2)" font-size="16" textLength="9.1" lengthAdjust="spacingAndGlyphs">5</text>
<text transform="translate(1907.5 718.8) rotate(-89.2)" font-size="14" textLength="9.6" lengthAdjust="spacingAndGlyphs">6</text>
<text x="1725.2" y="744" font-size="17.5" textLength="30.6" lengthAdjust="spacingAndGlyphs" transform="rotate(0.9 1726 744)">/AS</text>
<path d="M1761.8 731.8L1777.7 732L1777.4 743.9L1761.5 743.7Z" stroke-width="2.6" fill="none" stroke-linejoin="round"/>
<text x="1735.2" y="761" font-size="17.5" textLength="20.6" lengthAdjust="spacingAndGlyphs" transform="rotate(0.9 1736 761)">RW</text>
<path d="M1761.8 749.3L1777.7 749.5L1777.4 761.4L1761.5 761.2Z" stroke-width="2.6" fill="none" stroke-linejoin="round"/>
<text x="1714.2" y="780" font-size="17.5" textLength="40.6" lengthAdjust="spacingAndGlyphs" transform="rotate(0.9 1715 780)">/UDS</text>
<path d="M1761.3 767.3L1777.2 767.5L1776.9 779.4L1761 779.2Z" stroke-width="2.6" fill="none" stroke-linejoin="round"/>
<text x="1714.2" y="797.5" font-size="17.5" textLength="40.6" lengthAdjust="spacingAndGlyphs" transform="rotate(0.9 1715 797.5)">/LDS</text>
<path d="M1760.8 785.3L1776.7 785.5L1776.4 797.4L1760.5 797.2Z" stroke-width="2.6" fill="none" stroke-linejoin="round"/>
<text x="1714.2" y="815" font-size="17.5" textLength="39.1" lengthAdjust="spacingAndGlyphs" transform="rotate(0.9 1715 815)">/RES</text>
<path d="M1760.3 802.3L1776.2 802.5L1775.9 814.4L1760 814.2Z" stroke-width="2.6" fill="none" stroke-linejoin="round"/>
<path d="M1779 737.5L1892.7 739.3" stroke-width="3"/>
<path d="M1892.7 739.3L1890 819.3" stroke-width="2.5"/>
<path d="M1890 819.3L1995 822.6" stroke-width="3"/>
<rect x="1890.3" y="737.1" width="5" height="5" fill="#666" stroke-width="1.8"/>
<path d="M1779 755L1882.5 756.7" stroke-width="3"/>
<path d="M1882.5 756.7L1880.5 837" stroke-width="2.5"/>
<path d="M1880.5 837L1995 840.2" stroke-width="3"/>
<path d="M1777.5 773L1865 774.4" stroke-width="3"/>
<path d="M1865 774.4L1863 854.5" stroke-width="2.5"/>
<path d="M1863 854.5L1995 858" stroke-width="3"/>
<path d="M1777 791L1847 792.1" stroke-width="3"/>
<path d="M1847 792.1L1845 871.8" stroke-width="2.5"/>
<path d="M1845 871.8L1995 875.4" stroke-width="3"/>
<path d="M1777 808L1839 809" stroke-width="3"/>
<path d="M1839 809L1836 890" stroke-width="2.5"/>
<path d="M2000 741.8L2100 743.2L2080 1538.6L1977.5 1537.5Z" stroke-width="5.5" fill="none" stroke-linejoin="miter"/>
<path d="M2100.3 743L2080.3 1538.6" stroke-width="6.5"/>
<text x="2031.7" y="756" font-size="17.5" textLength="36.6" lengthAdjust="spacingAndGlyphs" transform="rotate(0.9 2032.5 756)">IC97</text>
<text x="1973.2" y="764" font-size="17.5" textLength="18.6" lengthAdjust="spacingAndGlyphs" transform="rotate(0.9 1974 764)">15</text>
<path d="M1973 766.2L1992 766.5" stroke-width="2.3"/>
<text x="2004.2" y="774" font-size="17.5" textLength="31.6" lengthAdjust="spacingAndGlyphs" transform="rotate(0.9 2005 774)">CLK</text>
<text x="2065.2" y="776" font-size="17.5" textLength="33.1" lengthAdjust="spacingAndGlyphs" transform="rotate(0.9 2066 776)">A23</text>
<text x="1981.7" y="817.5" font-size="17.5" textLength="8.1" lengthAdjust="spacingAndGlyphs" transform="rotate(0.9 1982.5 817.5)">6</text>
<text x="2003.2" y="826" font-size="17.5" textLength="20.1" lengthAdjust="spacingAndGlyphs" transform="rotate(0.9 2004 826)">AS</text>
<text x="1981.7" y="835" font-size="17.5" textLength="8.1" lengthAdjust="spacingAndGlyphs" transform="rotate(0.9 1982.5 835)">9</text>
<text x="2003.2" y="845" font-size="17.5" textLength="41.6" lengthAdjust="spacingAndGlyphs" transform="rotate(0.9 2004 845)">R//W</text>
<text x="1980.2" y="852.5" font-size="17.5" textLength="9.6" lengthAdjust="spacingAndGlyphs" transform="rotate(0.9 1981 852.5)">7</text>
<text x="2003.2" y="862.5" font-size="17.5" textLength="40.1" lengthAdjust="spacingAndGlyphs" transform="rotate(0.9 2004 862.5)">/UDS</text>
<text x="1980.2" y="870" font-size="17.5" textLength="9.6" lengthAdjust="spacingAndGlyphs" transform="rotate(0.9 1981 870)">8</text>
<text x="2003.2" y="880" font-size="17.5" textLength="40.1" lengthAdjust="spacingAndGlyphs" transform="rotate(0.9 2004 880)">/LDS</text>
<text x="1970.2" y="887.5" font-size="17.5" textLength="18.1" lengthAdjust="spacingAndGlyphs" transform="rotate(0.9 1971 887.5)">18</text>
<text x="2003.2" y="899" font-size="17.5" textLength="61.6" lengthAdjust="spacingAndGlyphs" transform="rotate(0.9 2004 899)">/RESET</text>
<text x="1969.2" y="906" font-size="17.5" textLength="17.6" lengthAdjust="spacingAndGlyphs" transform="rotate(0.9 1970 906)">17</text>
<text x="2001.7" y="916.5" font-size="17.5" textLength="50.1" lengthAdjust="spacingAndGlyphs" transform="rotate(0.9 2002.5 916.5)">/HALT</text>
<text x="1870.2" y="960" font-size="17.5" textLength="56.6" lengthAdjust="spacingAndGlyphs" transform="rotate(0.9 1871 960)">IC117</text>
<text x="1925.2" y="960" font-size="15" textLength="8.6" lengthAdjust="spacingAndGlyphs" transform="rotate(0.9 1926 960)">3</text>
<path d="M1910.1 968.6 L1900.5 968.4 A12.2 12.2 0 0 0 1899.9 992.6 L1909.4 992.9Z" stroke-width="4.7" stroke-linejoin="miter"/>
<text x="1871.7" y="975" font-size="16" textLength="9.1" lengthAdjust="spacingAndGlyphs" transform="rotate(0.9 1872.5 975)">6</text>
<text x="1915.2" y="975" font-size="15" textLength="9.6" lengthAdjust="spacingAndGlyphs" transform="rotate(0.9 1916 975)">4</text>
<text x="1914.2" y="995" font-size="17.5" textLength="10.6" lengthAdjust="spacingAndGlyphs" transform="rotate(0.9 1915 995)">5</text>
<text x="1871.7" y="1012.5" font-size="17.5" textLength="41.6" lengthAdjust="spacingAndGlyphs" transform="rotate(0.9 1872.5 1012.5)">LS11</text>
<path d="M1912.5 962.3L1990 963.5" stroke-width="3.3"/>
<path d="M1912.5 980.3L1990 981.5" stroke-width="3.3"/>
<path d="M1911 998.6L1989.5 999.8" stroke-width="3.3"/>
<text x="1965.2" y="960" font-size="17.5" textLength="20.6" lengthAdjust="spacingAndGlyphs" transform="rotate(0.9 1966 960)">26</text>
<text x="1965.2" y="977.5" font-size="17.5" textLength="19.6" lengthAdjust="spacingAndGlyphs" transform="rotate(0.9 1966 977.5)">27</text>
<text x="1965.2" y="995" font-size="17.5" textLength="19.6" lengthAdjust="spacingAndGlyphs" transform="rotate(0.9 1966 995)">28</text>
<text x="1999.2" y="970" font-size="17.5" textLength="32.6" lengthAdjust="spacingAndGlyphs" transform="rotate(0.9 2000 970)">FC2</text>
<text x="1999.2" y="987.5" font-size="17.5" textLength="31.6" lengthAdjust="spacingAndGlyphs" transform="rotate(0.9 2000 987.5)">FC1</text>
<text x="1999.2" y="1005.5" font-size="17.5" textLength="30.6" lengthAdjust="spacingAndGlyphs" transform="rotate(0.9 2000 1005.5)">FC0</text>
<text x="1773.2" y="984" font-size="17.5" textLength="21.6" lengthAdjust="spacingAndGlyphs" transform="rotate(0.9 1774 984)">FC</text>
<path d="M1799.3 972.3L1815.7 972.6L1815.4 985L1799 984.7Z" stroke-width="2.6" fill="none" stroke-linejoin="round"/>
<path d="M1817 978.7L1886 979.8" stroke-width="3.3"/>
<text x="1905.2" y="1072.5" font-size="17.5" textLength="28.1" lengthAdjust="spacingAndGlyphs" transform="rotate(0.9 1906 1072.5)">+5V</text>
<path d="M1907.8 1080.4L1926.8 1080.6" stroke-width="3"/>
<circle cx="1917.3" cy="1080.5" r="3.2" stroke-width="1.8" fill="#fff"/>
<path d="M1917 1084L1907.5 1437" stroke-width="2.7"/>
<path d="M1907.5 1437L1905 1511" stroke-width="2.9"/>
<text x="1726.2" y="1130" font-size="17.5" textLength="63.6" lengthAdjust="spacingAndGlyphs" transform="rotate(0.9 1727 1130)">/DTACK</text>
<path d="M1796.3 1118.3L1811.7 1118.5L1811.4 1129.9L1796 1129.7Z" stroke-width="2.6" fill="none" stroke-linejoin="round"/>
<path d="M1813 1124L1986 1126.6" stroke-width="3.3"/>
<text x="1961.7" y="1124" font-size="17.5" textLength="19.1" lengthAdjust="spacingAndGlyphs" transform="rotate(0.9 1962.5 1124)">10</text>
<text x="1995.2" y="1134" font-size="17.5" textLength="63.1" lengthAdjust="spacingAndGlyphs" transform="rotate(0.9 1996 1134)">/DTACK</text>
<text x="2061.7" y="1170" font-size="17.5" textLength="20.1" lengthAdjust="spacingAndGlyphs" transform="rotate(0.9 2062.5 1170)">A1</text>
<text x="1959.2" y="1185" font-size="17.5" textLength="21.6" lengthAdjust="spacingAndGlyphs" transform="rotate(0.9 1960 1185)">25</text>
<path d="M1959 1187.2L1981 1187.5" stroke-width="2.3"/>
<path d="M1911 1188.3L1984 1189.4" stroke-width="3.3"/>
<text x="1993.2" y="1196" font-size="17.5" textLength="52.6" lengthAdjust="spacingAndGlyphs" transform="rotate(0.9 1994 1196)">/IPL0</text>
<text x="1959.2" y="1203" font-size="17.5" textLength="19.6" lengthAdjust="spacingAndGlyphs" transform="rotate(0.9 1960 1203)">24</text>
<path d="M1911 1205.6L1983.5 1206.7" stroke-width="3.3"/>
<text x="1993.2" y="1214" font-size="17.5" textLength="52.6" lengthAdjust="spacingAndGlyphs" transform="rotate(0.9 1994 1214)">/IPL1</text>
<rect x="1910" y="1186.2" width="4.5" height="4.5" fill="#666" stroke-width="1.8"/>
<rect x="1909.8" y="1203.3" width="4.5" height="4.5" fill="#666" stroke-width="1.8"/>
<text x="1728.2" y="1245" font-size="17.5" textLength="58.6" lengthAdjust="spacingAndGlyphs" transform="rotate(0.9 1729 1245)">/IPL2</text>
<path d="M1792.3 1233.3L1808.7 1233.6L1808.4 1246L1792 1245.7Z" stroke-width="2.6" fill="none" stroke-linejoin="round"/>
<path d="M1810 1239.5L1982.5 1242" stroke-width="3.3"/>
<text x="1958.7" y="1238" font-size="17.5" textLength="19.1" lengthAdjust="spacingAndGlyphs" transform="rotate(0.9 1959.5 1238)">23</text>
<text x="1991.7" y="1249" font-size="17.5" textLength="85.1" lengthAdjust="spacingAndGlyphs" transform="rotate(0.9 1992.5 1249)">/IPL2D15</text>
<text x="1956.7" y="1274" font-size="17.5" textLength="20.1" lengthAdjust="spacingAndGlyphs" transform="rotate(0.9 1957.5 1274)">19</text>
<path d="M1964 1276L1981 1276.3" stroke-width="3"/>
<text x="1956.7" y="1291" font-size="17.5" textLength="20.1" lengthAdjust="spacingAndGlyphs" transform="rotate(0.9 1957.5 1291)">20</text>
<path d="M1964 1294.3L1980.5 1294.6" stroke-width="3"/>
<text x="1743.2" y="1335" font-size="17.5" textLength="42.6" lengthAdjust="spacingAndGlyphs" transform="rotate(0.9 1744 1335)">/VPA</text>
<path d="M1790.3 1321.3L1806.2 1321.5L1805.9 1333.9L1790 1333.7Z" stroke-width="2.6" fill="none" stroke-linejoin="round"/>
<path d="M1807.5 1327.5L1980 1331" stroke-width="3.3"/>
<text x="1955.2" y="1327" font-size="17.5" textLength="20.6" lengthAdjust="spacingAndGlyphs" transform="rotate(0.9 1956 1327)">21</text>
<path d="M1955 1329.2L1976 1329.5" stroke-width="2.3"/>
<text x="1990.2" y="1337" font-size="17.5" textLength="41.6" lengthAdjust="spacingAndGlyphs" transform="rotate(0.9 1991 1337)">/VPA</text>
<text x="1955.2" y="1345" font-size="17.5" textLength="19.6" lengthAdjust="spacingAndGlyphs" transform="rotate(0.9 1956 1345)">11</text>
<path d="M1955 1347.2L1975 1347.5" stroke-width="2.3"/>
<text x="1989.2" y="1354.5" font-size="17.5" textLength="31.6" lengthAdjust="spacingAndGlyphs" transform="rotate(0.9 1990 1354.5)">/BG</text>
<text x="1955.2" y="1362.5" font-size="17.5" textLength="19.6" lengthAdjust="spacingAndGlyphs" transform="rotate(0.9 1956 1362.5)">12</text>
<path d="M1907.5 1365.4L1979 1366.5" stroke-width="3.3"/>
<text x="1989.2" y="1373" font-size="17.5" textLength="62.6" lengthAdjust="spacingAndGlyphs" transform="rotate(0.9 1990 1373)">/BGACK</text>
<text x="1954.7" y="1380.5" font-size="17.5" textLength="19.1" lengthAdjust="spacingAndGlyphs" transform="rotate(0.9 1955.5 1380.5)">13</text>
<path d="M1907.5 1383.4L1978.5 1384.5" stroke-width="3.3"/>
<text x="1988.7" y="1390.5" font-size="17.5" textLength="30.1" lengthAdjust="spacingAndGlyphs" transform="rotate(0.9 1989.5 1390.5)">/BR</text>
<text x="1954.7" y="1398" font-size="17.5" textLength="19.1" lengthAdjust="spacingAndGlyphs" transform="rotate(0.9 1955.5 1398)">22</text>
<path d="M1906.5 1401.3L1978 1402.4" stroke-width="3.3"/>
<text x="1988.2" y="1409" font-size="17.5" textLength="51.6" lengthAdjust="spacingAndGlyphs" transform="rotate(0.9 1989 1409)">/BERR</text>
<text x="1954.2" y="1416" font-size="17.5" textLength="19.1" lengthAdjust="spacingAndGlyphs" transform="rotate(0.9 1955 1416)">14</text>
<path d="M1906 1419L1977.5 1420.1" stroke-width="3.3"/>
<text x="1986.7" y="1426" font-size="17.5" textLength="31.6" lengthAdjust="spacingAndGlyphs" transform="rotate(0.9 1987.5 1426)">VCC</text>
<text x="1954.2" y="1434" font-size="17.5" textLength="19.1" lengthAdjust="spacingAndGlyphs" transform="rotate(0.9 1955 1434)">49</text>
<path d="M1855 1435.5L1977.5 1437.4" stroke-width="3.3"/>
<text x="1986.7" y="1444" font-size="17.5" textLength="31.6" lengthAdjust="spacingAndGlyphs" transform="rotate(0.9 1987.5 1444)">VCC</text>
<rect x="1905.7" y="1363.2" width="4.5" height="4.5" fill="#666" stroke-width="1.8"/>
<rect x="1905.2" y="1381.2" width="4.5" height="4.5" fill="#666" stroke-width="1.8"/>
<rect x="1904.7" y="1399" width="4.5" height="4.5" fill="#666" stroke-width="1.8"/>
<rect x="1904.1" y="1416.8" width="4.5" height="4.5" fill="#666" stroke-width="1.8"/>
<path d="M1896 1452.8L1916 1453.2" stroke-width="3.3"/>
<path d="M1896 1463.8L1916 1464.2" stroke-width="3.3"/>
<text transform="translate(1895 1475.8) rotate(-89.2)" font-size="16" textLength="30.6" lengthAdjust="spacingAndGlyphs">C59</text>
<text transform="translate(1930 1479.8) rotate(-89.2)" font-size="17" textLength="30.6" lengthAdjust="spacingAndGlyphs">104</text>
<path d="M1855 1436L1853.2 1530" stroke-width="1.8"/>
<path d="M1846 1452.8L1864 1453.2" stroke-width="3"/>
<path d="M1846 1463.8L1864 1464.2" stroke-width="3"/>
<text transform="translate(1844 1474.8) rotate(-89.2)" font-size="17" textLength="31.6" lengthAdjust="spacingAndGlyphs">C56</text>
<text transform="translate(1877.5 1478.3) rotate(-89.2)" font-size="17" textLength="31.6" lengthAdjust="spacingAndGlyphs">10u</text>
<text x="1848.2" y="1449" font-size="11" textLength="6.1" lengthAdjust="spacingAndGlyphs" transform="rotate(0.9 1849 1449)">+</text>
<text x="1951.7" y="1489" font-size="17.5" textLength="19.1" lengthAdjust="spacingAndGlyphs" transform="rotate(0.9 1952.5 1489)">16</text>
<path d="M1905 1491.3L1976 1492.4" stroke-width="3.3"/>
<text x="1985.2" y="1499" font-size="17.5" textLength="30.6" lengthAdjust="spacingAndGlyphs" transform="rotate(0.9 1986 1499)">VSS</text>
<text x="1951.2" y="1507" font-size="17.5" textLength="19.1" lengthAdjust="spacingAndGlyphs" transform="rotate(0.9 1952 1507)">53</text>
<path d="M1854 1508L1975 1509.9" stroke-width="3.3"/>
<text x="1985.2" y="1516" font-size="17.5" textLength="30.6" lengthAdjust="spacingAndGlyphs" transform="rotate(0.9 1986 1516)">VSS</text>
<text x="2053.2" y="1517" font-size="17.5" textLength="18.6" lengthAdjust="spacingAndGlyphs" transform="rotate(0.9 2054 1517)">D0</text>
<rect x="1903" y="1489.2" width="4.5" height="4.5" fill="#666" stroke-width="1.8"/>
<rect x="1902.3" y="1506.5" width="5" height="5" fill="#666" stroke-width="1.8"/>
<rect x="1851.8" y="1506" width="4.5" height="4.5" fill="#666" stroke-width="1.8"/>
<text x="1991.7" y="1535.5" font-size="17.5" textLength="73.1" lengthAdjust="spacingAndGlyphs" transform="rotate(0.9 1992.5 1535.5)">MC68000</text>
<path d="M1853.2 1530L1853 1534" stroke-width="1.8"/>
<path d="M1844.5 1536.3L1863 1536.7" stroke-width="3"/>
<path d="M1849 1536.5L1845 1545.5" stroke-width="2.4"/>
<path d="M1858 1536.5L1853 1546" stroke-width="2.4"/>
<text x="1838.2" y="1557" font-size="17.5" textLength="30.1" lengthAdjust="spacingAndGlyphs" transform="rotate(0.9 1839 1557)">GND</text>
<path d="M2597.5 661L2370 657.5L2352 674.5L2338 1171" stroke-width="6.4" fill="none" stroke-linejoin="round"/>
<path d="M2337 1230L2327 1617L2342.5 1634L2562.5 1637.5" stroke-width="6.4" fill="none" stroke-linejoin="round"/>
<text x="2549.2" y="651" font-size="17.5" textLength="41.6" lengthAdjust="spacingAndGlyphs" transform="rotate(0.9 2550 651)">ABUS</text>
<text x="2504.2" y="1625" font-size="17.5" textLength="22.6" lengthAdjust="spacingAndGlyphs" transform="rotate(0.9 2505 1625)">DB</text>
<text x="2535.7" y="1625.5" font-size="17.5" textLength="32.6" lengthAdjust="spacingAndGlyphs" transform="rotate(0.9 2536.5 1625.5)">BUS</text>
<text x="2300" y="770.4" font-size="17" textLength="31" lengthAdjust="spacingAndGlyphs" transform="rotate(0.9 2300.8 770.4)">A23</text>
<text x="2366.9" y="771.6" font-size="17" textLength="31" lengthAdjust="spacingAndGlyphs" transform="rotate(0.9 2367.7 771.6)">A23</text>
<rect x="2297.8" y="756.4" width="35.4" height="5.6" fill="#fefefe" stroke="none"/>
<rect x="2365.2" y="757.6" width="35.4" height="5.4" fill="#fefefe" stroke="none"/>
<text x="2299.5" y="788.1" font-size="17" textLength="31" lengthAdjust="spacingAndGlyphs" transform="rotate(0.9 2300.3 788.1)">A22</text>
<text x="2366.4" y="789.3" font-size="17" textLength="31" lengthAdjust="spacingAndGlyphs" transform="rotate(0.9 2367.2 789.3)">A22</text>
<rect x="2297.3" y="774.1" width="35.4" height="5.6" fill="#fefefe" stroke="none"/>
<rect x="2364.7" y="775.3" width="35.4" height="5.4" fill="#fefefe" stroke="none"/>
<text x="2299" y="805.9" font-size="17" textLength="31" lengthAdjust="spacingAndGlyphs" transform="rotate(0.9 2299.8 805.9)">A21</text>
<text x="2365.9" y="807.1" font-size="17" textLength="31" lengthAdjust="spacingAndGlyphs" transform="rotate(0.9 2366.7 807.1)">A21</text>
<rect x="2296.8" y="791.9" width="35.4" height="5.6" fill="#fefefe" stroke="none"/>
<rect x="2364.2" y="793.1" width="35.4" height="5.4" fill="#fefefe" stroke="none"/>
<text x="2298.5" y="823.6" font-size="17" textLength="31" lengthAdjust="spacingAndGlyphs" transform="rotate(0.9 2299.3 823.6)">A20</text>
<text x="2365.4" y="824.8" font-size="17" textLength="31" lengthAdjust="spacingAndGlyphs" transform="rotate(0.9 2366.2 824.8)">A20</text>
<rect x="2296.3" y="809.6" width="35.4" height="5.6" fill="#fefefe" stroke="none"/>
<rect x="2363.7" y="810.8" width="35.4" height="5.4" fill="#fefefe" stroke="none"/>
<text x="2298" y="841.4" font-size="17" textLength="31" lengthAdjust="spacingAndGlyphs" transform="rotate(0.9 2298.8 841.4)">A19</text>
<text x="2364.9" y="842.6" font-size="17" textLength="31" lengthAdjust="spacingAndGlyphs" transform="rotate(0.9 2365.7 842.6)">A19</text>
<rect x="2295.8" y="827.4" width="35.4" height="5.6" fill="#fefefe" stroke="none"/>
<rect x="2363.2" y="828.6" width="35.4" height="5.4" fill="#fefefe" stroke="none"/>
<text x="2297.5" y="859.1" font-size="17" textLength="31" lengthAdjust="spacingAndGlyphs" transform="rotate(0.9 2298.3 859.1)">A18</text>
<text x="2364.4" y="860.3" font-size="17" textLength="31" lengthAdjust="spacingAndGlyphs" transform="rotate(0.9 2365.2 860.3)">A18</text>
<rect x="2295.3" y="845.1" width="35.4" height="5.6" fill="#fefefe" stroke="none"/>
<rect x="2362.7" y="846.3" width="35.4" height="5.4" fill="#fefefe" stroke="none"/>
<text x="2297" y="876.9" font-size="17" textLength="31" lengthAdjust="spacingAndGlyphs" transform="rotate(0.9 2297.8 876.9)">A17</text>
<text x="2363.9" y="878.1" font-size="17" textLength="31" lengthAdjust="spacingAndGlyphs" transform="rotate(0.9 2364.7 878.1)">A17</text>
<rect x="2294.8" y="862.9" width="35.4" height="5.6" fill="#fefefe" stroke="none"/>
<rect x="2362.2" y="864.1" width="35.4" height="5.4" fill="#fefefe" stroke="none"/>
<text x="2296.5" y="894.6" font-size="17" textLength="31" lengthAdjust="spacingAndGlyphs" transform="rotate(0.9 2297.3 894.6)">A16</text>
<text x="2363.4" y="895.8" font-size="17" textLength="31" lengthAdjust="spacingAndGlyphs" transform="rotate(0.9 2364.2 895.8)">A16</text>
<rect x="2294.3" y="880.6" width="35.4" height="5.6" fill="#fefefe" stroke="none"/>
<rect x="2361.7" y="881.8" width="35.4" height="5.4" fill="#fefefe" stroke="none"/>
<text x="2296" y="912.3" font-size="17" textLength="31" lengthAdjust="spacingAndGlyphs" transform="rotate(0.9 2296.8 912.3)">A15</text>
<text x="2362.9" y="913.5" font-size="17" textLength="31" lengthAdjust="spacingAndGlyphs" transform="rotate(0.9 2363.7 913.5)">A15</text>
<rect x="2293.8" y="898.3" width="35.4" height="5.6" fill="#fefefe" stroke="none"/>
<rect x="2361.2" y="899.5" width="35.4" height="5.4" fill="#fefefe" stroke="none"/>
<text x="2295.5" y="930.4" font-size="17" textLength="31" lengthAdjust="spacingAndGlyphs" transform="rotate(0.9 2296.3 930.4)">A14</text>
<text x="2362.4" y="931.6" font-size="17" textLength="31" lengthAdjust="spacingAndGlyphs" transform="rotate(0.9 2363.2 931.6)">A14</text>
<rect x="2293.3" y="916.4" width="35.4" height="5.6" fill="#fefefe" stroke="none"/>
<rect x="2360.7" y="917.6" width="35.4" height="5.4" fill="#fefefe" stroke="none"/>
<text x="2295" y="948.5" font-size="17" textLength="31" lengthAdjust="spacingAndGlyphs" transform="rotate(0.9 2295.8 948.5)">A13</text>
<text x="2361.9" y="949.7" font-size="17" textLength="31" lengthAdjust="spacingAndGlyphs" transform="rotate(0.9 2362.7 949.7)">A13</text>
<rect x="2292.8" y="934.5" width="35.4" height="5.6" fill="#fefefe" stroke="none"/>
<rect x="2360.2" y="935.7" width="35.4" height="5.4" fill="#fefefe" stroke="none"/>
<text x="2294.5" y="966.6" font-size="17" textLength="31" lengthAdjust="spacingAndGlyphs" transform="rotate(0.9 2295.3 966.6)">A12</text>
<text x="2361.4" y="967.8" font-size="17" textLength="31" lengthAdjust="spacingAndGlyphs" transform="rotate(0.9 2362.2 967.8)">A12</text>
<rect x="2292.3" y="952.6" width="35.4" height="5.6" fill="#fefefe" stroke="none"/>
<rect x="2359.7" y="953.8" width="35.4" height="5.4" fill="#fefefe" stroke="none"/>
<text x="2293.9" y="984.7" font-size="17" textLength="31" lengthAdjust="spacingAndGlyphs" transform="rotate(0.9 2294.7 984.7)">A11</text>
<text x="2360.8" y="985.9" font-size="17" textLength="31" lengthAdjust="spacingAndGlyphs" transform="rotate(0.9 2361.6 985.9)">A11</text>
<rect x="2291.7" y="970.7" width="35.4" height="5.6" fill="#fefefe" stroke="none"/>
<rect x="2359.1" y="971.9" width="35.4" height="5.4" fill="#fefefe" stroke="none"/>
<text x="2293.4" y="1002.8" font-size="17" textLength="31" lengthAdjust="spacingAndGlyphs" transform="rotate(0.9 2294.2 1002.8)">A10</text>
<text x="2360.3" y="1004" font-size="17" textLength="31" lengthAdjust="spacingAndGlyphs" transform="rotate(0.9 2361.1 1004)">A10</text>
<rect x="2291.2" y="988.8" width="35.4" height="5.6" fill="#fefefe" stroke="none"/>
<rect x="2358.6" y="990" width="35.4" height="5.4" fill="#fefefe" stroke="none"/>
<text x="2303.2" y="1020.8" font-size="17" textLength="20.7" lengthAdjust="spacingAndGlyphs" transform="rotate(0.9 2304 1020.8)">A9</text>
<text x="2359.8" y="1022" font-size="17" textLength="20.7" lengthAdjust="spacingAndGlyphs" transform="rotate(0.9 2360.6 1022)">A9</text>
<rect x="2301" y="1006.8" width="25.1" height="5.6" fill="#fefefe" stroke="none"/>
<rect x="2358.1" y="1008" width="25.1" height="5.4" fill="#fefefe" stroke="none"/>
<text x="2302.7" y="1038.9" font-size="17" textLength="20.7" lengthAdjust="spacingAndGlyphs" transform="rotate(0.9 2303.5 1038.9)">A8</text>
<text x="2359.3" y="1040.1" font-size="17" textLength="20.7" lengthAdjust="spacingAndGlyphs" transform="rotate(0.9 2360.1 1040.1)">A8</text>
<rect x="2300.5" y="1024.9" width="25.1" height="5.6" fill="#fefefe" stroke="none"/>
<rect x="2357.6" y="1026.1" width="25.1" height="5.4" fill="#fefefe" stroke="none"/>
<text x="2302.2" y="1057" font-size="17" textLength="20.7" lengthAdjust="spacingAndGlyphs" transform="rotate(0.9 2303 1057)">A7</text>
<text x="2358.8" y="1058.2" font-size="17" textLength="20.7" lengthAdjust="spacingAndGlyphs" transform="rotate(0.9 2359.6 1058.2)">A7</text>
<rect x="2300" y="1043" width="25.1" height="5.6" fill="#fefefe" stroke="none"/>
<rect x="2357.1" y="1044.2" width="25.1" height="5.4" fill="#fefefe" stroke="none"/>
<text x="2301.7" y="1075.1" font-size="17" textLength="20.7" lengthAdjust="spacingAndGlyphs" transform="rotate(0.9 2302.5 1075.1)">A6</text>
<text x="2358.3" y="1076.3" font-size="17" textLength="20.7" lengthAdjust="spacingAndGlyphs" transform="rotate(0.9 2359.1 1076.3)">A6</text>
<rect x="2299.5" y="1061.1" width="25.1" height="5.6" fill="#fefefe" stroke="none"/>
<rect x="2356.6" y="1062.3" width="25.1" height="5.4" fill="#fefefe" stroke="none"/>
<text x="2301.2" y="1093.2" font-size="17" textLength="20.7" lengthAdjust="spacingAndGlyphs" transform="rotate(0.9 2302 1093.2)">A5</text>
<text x="2357.8" y="1094.4" font-size="17" textLength="20.7" lengthAdjust="spacingAndGlyphs" transform="rotate(0.9 2358.6 1094.4)">A5</text>
<rect x="2299" y="1079.2" width="25.1" height="5.6" fill="#fefefe" stroke="none"/>
<rect x="2356.1" y="1080.4" width="25.1" height="5.4" fill="#fefefe" stroke="none"/>
<text x="2300.7" y="1111.2" font-size="17" textLength="20.7" lengthAdjust="spacingAndGlyphs" transform="rotate(0.9 2301.5 1111.2)">A4</text>
<text x="2357.3" y="1112.4" font-size="17" textLength="20.7" lengthAdjust="spacingAndGlyphs" transform="rotate(0.9 2358.1 1112.4)">A4</text>
<rect x="2298.5" y="1097.2" width="25.1" height="5.6" fill="#fefefe" stroke="none"/>
<rect x="2355.6" y="1098.4" width="25.1" height="5.4" fill="#fefefe" stroke="none"/>
<text x="2300.2" y="1129.3" font-size="17" textLength="20.7" lengthAdjust="spacingAndGlyphs" transform="rotate(0.9 2301 1129.3)">A3</text>
<text x="2356.8" y="1130.5" font-size="17" textLength="20.7" lengthAdjust="spacingAndGlyphs" transform="rotate(0.9 2357.6 1130.5)">A3</text>
<rect x="2298" y="1115.3" width="25.1" height="5.6" fill="#fefefe" stroke="none"/>
<rect x="2355.1" y="1116.5" width="25.1" height="5.4" fill="#fefefe" stroke="none"/>
<text x="2299.7" y="1147.4" font-size="17" textLength="20.7" lengthAdjust="spacingAndGlyphs" transform="rotate(0.9 2300.5 1147.4)">A2</text>
<text x="2356.3" y="1148.6" font-size="17" textLength="20.7" lengthAdjust="spacingAndGlyphs" transform="rotate(0.9 2357.1 1148.6)">A2</text>
<rect x="2297.5" y="1133.4" width="25.1" height="5.6" fill="#fefefe" stroke="none"/>
<rect x="2354.6" y="1134.6" width="25.1" height="5.4" fill="#fefefe" stroke="none"/>
<text x="2299.1" y="1165.5" font-size="17" textLength="20.7" lengthAdjust="spacingAndGlyphs" transform="rotate(0.9 2299.9 1165.5)">A1</text>
<text x="2355.7" y="1166.7" font-size="17" textLength="20.7" lengthAdjust="spacingAndGlyphs" transform="rotate(0.9 2356.5 1166.7)">A1</text>
<rect x="2296.9" y="1151.5" width="25.1" height="5.6" fill="#fefefe" stroke="none"/>
<rect x="2354" y="1152.7" width="25.1" height="5.4" fill="#fefefe" stroke="none"/>
<text x="2277" y="1244.5" font-size="17" textLength="41.3" lengthAdjust="spacingAndGlyphs" transform="rotate(0.9 2277.8 1244.5)">DB15</text>
<text x="2354.2" y="1245.7" font-size="17" textLength="41.3" lengthAdjust="spacingAndGlyphs" transform="rotate(0.9 2355 1245.7)">DB15</text>
<rect x="2274.8" y="1230.5" width="45.7" height="5.6" fill="#fefefe" stroke="none"/>
<rect x="2352.5" y="1231.7" width="45.7" height="5.4" fill="#fefefe" stroke="none"/>
<text x="2276.6" y="1262.4" font-size="17" textLength="41.3" lengthAdjust="spacingAndGlyphs" transform="rotate(0.9 2277.4 1262.4)">DB14</text>
<text x="2353.8" y="1263.6" font-size="17" textLength="41.3" lengthAdjust="spacingAndGlyphs" transform="rotate(0.9 2354.6 1263.6)">DB14</text>
<rect x="2274.4" y="1248.4" width="45.7" height="5.6" fill="#fefefe" stroke="none"/>
<rect x="2352.1" y="1249.6" width="45.7" height="5.4" fill="#fefefe" stroke="none"/>
<text x="2276.1" y="1280.2" font-size="17" textLength="41.3" lengthAdjust="spacingAndGlyphs" transform="rotate(0.9 2276.9 1280.2)">DB13</text>
<text x="2353.3" y="1281.4" font-size="17" textLength="41.3" lengthAdjust="spacingAndGlyphs" transform="rotate(0.9 2354.1 1281.4)">DB13</text>
<rect x="2273.9" y="1266.2" width="45.7" height="5.6" fill="#fefefe" stroke="none"/>
<rect x="2351.6" y="1267.4" width="45.7" height="5.4" fill="#fefefe" stroke="none"/>
<text x="2275.6" y="1298.1" font-size="17" textLength="41.3" lengthAdjust="spacingAndGlyphs" transform="rotate(0.9 2276.4 1298.1)">DB12</text>
<text x="2352.8" y="1299.3" font-size="17" textLength="41.3" lengthAdjust="spacingAndGlyphs" transform="rotate(0.9 2353.6 1299.3)">DB12</text>
<rect x="2273.4" y="1284.1" width="45.7" height="5.6" fill="#fefefe" stroke="none"/>
<rect x="2351.1" y="1285.3" width="45.7" height="5.4" fill="#fefefe" stroke="none"/>
<text x="2275.2" y="1316" font-size="17" textLength="41.3" lengthAdjust="spacingAndGlyphs" transform="rotate(0.9 2276 1316)">DB11</text>
<text x="2352.4" y="1317.2" font-size="17" textLength="41.3" lengthAdjust="spacingAndGlyphs" transform="rotate(0.9 2353.2 1317.2)">DB11</text>
<rect x="2273" y="1302" width="45.7" height="5.6" fill="#fefefe" stroke="none"/>
<rect x="2350.7" y="1303.2" width="45.7" height="5.4" fill="#fefefe" stroke="none"/>
<text x="2274.7" y="1333.9" font-size="17" textLength="41.3" lengthAdjust="spacingAndGlyphs" transform="rotate(0.9 2275.5 1333.9)">DB10</text>
<text x="2351.9" y="1335.1" font-size="17" textLength="41.3" lengthAdjust="spacingAndGlyphs" transform="rotate(0.9 2352.7 1335.1)">DB10</text>
<rect x="2272.5" y="1319.9" width="45.7" height="5.6" fill="#fefefe" stroke="none"/>
<rect x="2350.2" y="1321.1" width="45.7" height="5.4" fill="#fefefe" stroke="none"/>
<text x="2284.6" y="1351.8" font-size="17" textLength="31" lengthAdjust="spacingAndGlyphs" transform="rotate(0.9 2285.4 1351.8)">DB9</text>
<text x="2351.5" y="1353" font-size="17" textLength="31" lengthAdjust="spacingAndGlyphs" transform="rotate(0.9 2352.3 1353)">DB9</text>
<rect x="2282.4" y="1337.8" width="35.4" height="5.6" fill="#fefefe" stroke="none"/>
<rect x="2349.8" y="1339" width="35.4" height="5.4" fill="#fefefe" stroke="none"/>
<text x="2284.1" y="1369.7" font-size="17" textLength="31" lengthAdjust="spacingAndGlyphs" transform="rotate(0.9 2284.9 1369.7)">DB8</text>
<text x="2351" y="1370.9" font-size="17" textLength="31" lengthAdjust="spacingAndGlyphs" transform="rotate(0.9 2351.8 1370.9)">DB8</text>
<rect x="2281.9" y="1355.7" width="35.4" height="5.6" fill="#fefefe" stroke="none"/>
<rect x="2349.3" y="1356.9" width="35.4" height="5.4" fill="#fefefe" stroke="none"/>
<text x="2283.6" y="1387.6" font-size="17" textLength="31" lengthAdjust="spacingAndGlyphs" transform="rotate(0.9 2284.4 1387.6)">DB7</text>
<text x="2350.5" y="1388.8" font-size="17" textLength="31" lengthAdjust="spacingAndGlyphs" transform="rotate(0.9 2351.3 1388.8)">DB7</text>
<rect x="2281.4" y="1373.6" width="35.4" height="5.6" fill="#fefefe" stroke="none"/>
<rect x="2348.8" y="1374.8" width="35.4" height="5.4" fill="#fefefe" stroke="none"/>
<text x="2283.2" y="1405.5" font-size="17" textLength="31" lengthAdjust="spacingAndGlyphs" transform="rotate(0.9 2284 1405.5)">DB6</text>
<text x="2350.1" y="1406.7" font-size="17" textLength="31" lengthAdjust="spacingAndGlyphs" transform="rotate(0.9 2350.9 1406.7)">DB6</text>
<rect x="2281" y="1391.5" width="35.4" height="5.6" fill="#fefefe" stroke="none"/>
<rect x="2348.4" y="1392.7" width="35.4" height="5.4" fill="#fefefe" stroke="none"/>
<text x="2282.7" y="1423.4" font-size="17" textLength="31" lengthAdjust="spacingAndGlyphs" transform="rotate(0.9 2283.5 1423.4)">DB5</text>
<text x="2349.6" y="1424.6" font-size="17" textLength="31" lengthAdjust="spacingAndGlyphs" transform="rotate(0.9 2350.4 1424.6)">DB5</text>
<rect x="2280.5" y="1409.4" width="35.4" height="5.6" fill="#fefefe" stroke="none"/>
<rect x="2347.9" y="1410.6" width="35.4" height="5.4" fill="#fefefe" stroke="none"/>
<text x="2282.2" y="1441.3" font-size="17" textLength="31" lengthAdjust="spacingAndGlyphs" transform="rotate(0.9 2283 1441.3)">DB4</text>
<text x="2349.1" y="1442.5" font-size="17" textLength="31" lengthAdjust="spacingAndGlyphs" transform="rotate(0.9 2349.9 1442.5)">DB4</text>
<rect x="2280" y="1427.3" width="35.4" height="5.6" fill="#fefefe" stroke="none"/>
<rect x="2347.4" y="1428.5" width="35.4" height="5.4" fill="#fefefe" stroke="none"/>
<text x="2281.8" y="1459.2" font-size="17" textLength="31" lengthAdjust="spacingAndGlyphs" transform="rotate(0.9 2282.6 1459.2)">DB3</text>
<text x="2348.7" y="1460.4" font-size="17" textLength="31" lengthAdjust="spacingAndGlyphs" transform="rotate(0.9 2349.5 1460.4)">DB3</text>
<rect x="2279.6" y="1445.2" width="35.4" height="5.6" fill="#fefefe" stroke="none"/>
<rect x="2347" y="1446.4" width="35.4" height="5.4" fill="#fefefe" stroke="none"/>
<text x="2281.3" y="1477.1" font-size="17" textLength="31" lengthAdjust="spacingAndGlyphs" transform="rotate(0.9 2282.1 1477.1)">DB2</text>
<text x="2348.2" y="1478.3" font-size="17" textLength="31" lengthAdjust="spacingAndGlyphs" transform="rotate(0.9 2349 1478.3)">DB2</text>
<rect x="2279.1" y="1463.1" width="35.4" height="5.6" fill="#fefefe" stroke="none"/>
<rect x="2346.5" y="1464.3" width="35.4" height="5.4" fill="#fefefe" stroke="none"/>
<text x="2280.9" y="1495" font-size="17" textLength="31" lengthAdjust="spacingAndGlyphs" transform="rotate(0.9 2281.7 1495)">DB1</text>
<text x="2347.8" y="1496.2" font-size="17" textLength="31" lengthAdjust="spacingAndGlyphs" transform="rotate(0.9 2348.6 1496.2)">DB1</text>
<rect x="2278.7" y="1481" width="35.4" height="5.6" fill="#fefefe" stroke="none"/>
<rect x="2346.1" y="1482.2" width="35.4" height="5.4" fill="#fefefe" stroke="none"/>
<text x="2280.4" y="1512.8" font-size="17" textLength="31" lengthAdjust="spacingAndGlyphs" transform="rotate(0.9 2281.2 1512.8)">DB0</text>
<text x="2347.3" y="1514" font-size="17" textLength="31" lengthAdjust="spacingAndGlyphs" transform="rotate(0.9 2348.1 1514)">DB0</text>
<rect x="2278.2" y="1498.8" width="35.4" height="5.6" fill="#fefefe" stroke="none"/>
<rect x="2345.6" y="1500" width="35.4" height="5.4" fill="#fefefe" stroke="none"/>
<path d="M2102 770.5L2340.2 774.3L2343.2 773.1L2346.7 769.9" stroke-width="3.2" fill="none" stroke-linejoin="round"/>
<path d="M2351.7 769.9L2355.2 773.5L2359.2 774.6L2580 778" stroke-width="3.2" fill="none" stroke-linejoin="round"/>
<path d="M2580 778L2584.1 770.1L2588.4 786.2L2592.7 770.2L2597 786.3L2601.3 770.4L2605.6 786.4L2609.9 770.5L2613.5 781.1L2618 780.1" stroke-width="2" fill="none" stroke-linejoin="miter"/>
<circle cx="2621.5" cy="780.2" r="3.2" stroke-width="1.8" fill="#fff"/>
<path d="M2621.5 773.2L2621.3 787.2" stroke-width="1.6"/>
<text x="2634.2" y="787.2" font-size="17.5" textLength="41.6" lengthAdjust="spacingAndGlyphs" transform="rotate(0.9 2635 787.2)">R913</text>
<text x="2560.2" y="793" font-size="14" textLength="9.1" lengthAdjust="spacingAndGlyphs" transform="rotate(0.9 2561 793)" opacity="0.85">2</text>
<text x="2107.2" y="765.5" font-size="17.5" textLength="20.1" lengthAdjust="spacingAndGlyphs" transform="rotate(0.9 2108 765.5)">52</text>
<path d="M2101.6 788.3L2339.7 792L2342.7 790.9L2346.2 787.6" stroke-width="3.2" fill="none" stroke-linejoin="round"/>
<path d="M2351.2 787.6L2354.7 791.2L2358.7 792.3L2579.6 795.8" stroke-width="3.2" fill="none" stroke-linejoin="round"/>
<path d="M2579.6 795.8L2583.7 787.8L2588 803.9L2592.3 788L2596.6 804L2600.9 788.1L2605.1 804.2L2609.4 788.2L2613.1 798.8L2617.6 797.9" stroke-width="2" fill="none" stroke-linejoin="miter"/>
<circle cx="2621.1" cy="797.9" r="3.2" stroke-width="1.8" fill="#fff"/>
<path d="M2621.1 790.9L2620.9 804.9" stroke-width="1.6"/>
<text x="2633.8" y="804.9" font-size="17.5" textLength="41.6" lengthAdjust="spacingAndGlyphs" transform="rotate(0.9 2634.6 804.9)">R913</text>
<text x="2559.8" y="810.8" font-size="14" textLength="9.1" lengthAdjust="spacingAndGlyphs" transform="rotate(0.9 2560.6 810.8)" opacity="0.85">3</text>
<text x="2106.8" y="783.3" font-size="17.5" textLength="20.1" lengthAdjust="spacingAndGlyphs" transform="rotate(0.9 2107.6 783.3)">51</text>
<path d="M2101.1 806L2339.2 809.7L2342.2 808.6L2345.7 805.4" stroke-width="3.2" fill="none" stroke-linejoin="round"/>
<path d="M2350.7 805.4L2354.2 809L2358.2 810L2579.1 813.5" stroke-width="3.2" fill="none" stroke-linejoin="round"/>
<path d="M2579.1 813.5L2583.3 805.6L2587.6 821.6L2591.8 805.7L2596.1 821.8L2600.4 805.9L2604.7 821.9L2609 806L2612.6 816.5L2617.1 815.6" stroke-width="2" fill="none" stroke-linejoin="miter"/>
<circle cx="2620.6" cy="815.7" r="3.2" stroke-width="1.8" fill="#fff"/>
<path d="M2620.6 808.7L2620.4 822.7" stroke-width="1.6"/>
<text x="2633.3" y="822.7" font-size="17.5" textLength="41.6" lengthAdjust="spacingAndGlyphs" transform="rotate(0.9 2634.1 822.7)">R913</text>
<text x="2559.3" y="828.5" font-size="14" textLength="9.1" lengthAdjust="spacingAndGlyphs" transform="rotate(0.9 2560.1 828.5)" opacity="0.85">4</text>
<text x="2106.3" y="801" font-size="17.5" textLength="20.1" lengthAdjust="spacingAndGlyphs" transform="rotate(0.9 2107.1 801)">50</text>
<path d="M2100.7 823.8L2338.7 827.5L2341.7 826.3L2345.2 823.1" stroke-width="3.2" fill="none" stroke-linejoin="round"/>
<path d="M2350.2 823.1L2353.7 826.7L2357.7 827.8L2578.7 831.3" stroke-width="3.2" fill="none" stroke-linejoin="round"/>
<path d="M2578.7 831.3L2582.8 823.3L2587.1 839.4L2591.4 823.5L2595.7 839.5L2600 823.6L2604.3 839.7L2608.6 823.7L2612.2 834.3L2616.7 833.4" stroke-width="2" fill="none" stroke-linejoin="miter"/>
<circle cx="2620.2" cy="833.4" r="3.2" stroke-width="1.8" fill="#fff"/>
<path d="M2620.2 826.4L2620 840.4" stroke-width="1.6"/>
<text x="2632.9" y="840.4" font-size="17.5" textLength="41.6" lengthAdjust="spacingAndGlyphs" transform="rotate(0.9 2633.7 840.4)">R913</text>
<text x="2558.9" y="846.3" font-size="14" textLength="9.1" lengthAdjust="spacingAndGlyphs" transform="rotate(0.9 2559.7 846.3)" opacity="0.85">5</text>
<text x="2105.9" y="818.8" font-size="17.5" textLength="20.1" lengthAdjust="spacingAndGlyphs" transform="rotate(0.9 2106.7 818.8)">48</text>
<path d="M2100.2 841.5L2338.2 845.2L2341.2 844.1L2344.7 840.9" stroke-width="3.2" fill="none" stroke-linejoin="round"/>
<path d="M2349.7 840.9L2353.2 844.5L2357.2 845.5L2578.3 849" stroke-width="3.2" fill="none" stroke-linejoin="round"/>
<path d="M2578.3 849L2582.4 841.1L2586.7 857.1L2591 841.2L2595.3 857.3L2599.5 841.3L2603.8 857.4L2608.1 841.5L2611.8 852L2616.3 851.1" stroke-width="2" fill="none" stroke-linejoin="miter"/>
<circle cx="2619.8" cy="851.2" r="3.2" stroke-width="1.8" fill="#fff"/>
<path d="M2619.8 844.2L2619.6 858.2" stroke-width="1.6"/>
<text x="2632.5" y="858.2" font-size="17.5" textLength="41.6" lengthAdjust="spacingAndGlyphs" transform="rotate(0.9 2633.3 858.2)">R913</text>
<text x="2558.5" y="864" font-size="14" textLength="9.1" lengthAdjust="spacingAndGlyphs" transform="rotate(0.9 2559.3 864)" opacity="0.85">6</text>
<text x="2105.4" y="836.5" font-size="17.5" textLength="20.1" lengthAdjust="spacingAndGlyphs" transform="rotate(0.9 2106.2 836.5)">47</text>
<path d="M2099.8 859.2L2337.7 863L2340.7 861.8L2344.2 858.6" stroke-width="3.2" fill="none" stroke-linejoin="round"/>
<path d="M2349.2 858.6L2352.7 862.2L2356.7 863.3L2577.8 866.7" stroke-width="3.2" fill="none" stroke-linejoin="round"/>
<path d="M2577.8 866.7L2582 858.8L2586.3 874.9L2590.5 858.9L2594.8 875L2599.1 859.1L2603.4 875.1L2607.7 859.2L2611.3 869.8L2615.8 868.8" stroke-width="2" fill="none" stroke-linejoin="miter"/>
<circle cx="2619.3" cy="868.9" r="3.2" stroke-width="1.8" fill="#fff"/>
<path d="M2619.3 861.9L2619.1 875.9" stroke-width="1.6"/>
<text x="2632" y="875.9" font-size="17.5" textLength="41.6" lengthAdjust="spacingAndGlyphs" transform="rotate(0.9 2632.8 875.9)">R913</text>
<text x="2558" y="881.7" font-size="14" textLength="9.1" lengthAdjust="spacingAndGlyphs" transform="rotate(0.9 2558.8 881.7)" opacity="0.85">7</text>
<text x="2105" y="854.2" font-size="17.5" textLength="20.1" lengthAdjust="spacingAndGlyphs" transform="rotate(0.9 2105.8 854.2)">46</text>
<path d="M2099.3 877L2337.2 880.7L2340.2 879.6L2343.7 876.4" stroke-width="3.2" fill="none" stroke-linejoin="round"/>
<path d="M2348.7 876.4L2352.2 880L2356.2 881L2577.4 884.5" stroke-width="3.2" fill="none" stroke-linejoin="round"/>
<path d="M2577.4 884.5L2581.5 876.6L2585.8 892.6L2590.1 876.7L2594.4 892.8L2598.7 876.8L2603 892.9L2607.2 877L2610.9 887.5L2615.4 886.6" stroke-width="2" fill="none" stroke-linejoin="miter"/>
<circle cx="2618.9" cy="886.6" r="3.2" stroke-width="1.8" fill="#fff"/>
<path d="M2618.9 879.6L2618.7 893.6" stroke-width="1.6"/>
<text x="2631.6" y="893.6" font-size="17.5" textLength="41.6" lengthAdjust="spacingAndGlyphs" transform="rotate(0.9 2632.4 893.6)">R913</text>
<text x="2557.6" y="899.5" font-size="14" textLength="9.1" lengthAdjust="spacingAndGlyphs" transform="rotate(0.9 2558.4 899.5)" opacity="0.85">8</text>
<text x="2104.5" y="872" font-size="17.5" textLength="20.1" lengthAdjust="spacingAndGlyphs" transform="rotate(0.9 2105.3 872)">45</text>
<path d="M2098.9 894.7L2336.7 898.5L2339.7 897.3L2343.2 894.1" stroke-width="3.2" fill="none" stroke-linejoin="round"/>
<path d="M2348.2 894.1L2351.7 897.7L2355.7 898.8L2577 902.2" stroke-width="3.2" fill="none" stroke-linejoin="round"/>
<path d="M2577 902.2L2581.1 894.3L2585.4 910.4L2589.7 894.4L2594 910.5L2598.2 894.6L2602.5 910.6L2606.8 894.7L2610.5 905.3L2615 904.3" stroke-width="2" fill="none" stroke-linejoin="miter"/>
<circle cx="2618.5" cy="904.4" r="3.2" stroke-width="1.8" fill="#fff"/>
<path d="M2618.5 897.4L2618.3 911.4" stroke-width="1.6"/>
<text x="2631.2" y="911.4" font-size="17.5" textLength="41.6" lengthAdjust="spacingAndGlyphs" transform="rotate(0.9 2632 911.4)">R913</text>
<text x="2557.2" y="917.2" font-size="14" textLength="9.1" lengthAdjust="spacingAndGlyphs" transform="rotate(0.9 2558 917.2)" opacity="0.85">9</text>
<text x="2104.1" y="889.7" font-size="17.5" textLength="20.1" lengthAdjust="spacingAndGlyphs" transform="rotate(0.9 2104.9 889.7)">44</text>
<path d="M2098.5 912.5L2336.2 916.2L2339.2 915L2342.7 911.8" stroke-width="3.2" fill="none" stroke-linejoin="round"/>
<path d="M2347.7 911.8L2351.2 915.4L2355.2 916.5L2576.5 920" stroke-width="3.2" fill="none" stroke-linejoin="round"/>
<path d="M2576.5 920L2580.7 912L2585 928.1L2589.2 912.2L2593.5 928.2L2597.8 912.3L2602.1 928.4L2606.4 912.4L2610 923L2614.5 922.1" stroke-width="2" fill="none" stroke-linejoin="miter"/>
<circle cx="2618" cy="922.1" r="3.2" stroke-width="1.8" fill="#fff"/>
<path d="M2618 915.1L2617.8 929.1" stroke-width="1.6"/>
<text x="2630.7" y="929.1" font-size="17.5" textLength="41.6" lengthAdjust="spacingAndGlyphs" transform="rotate(0.9 2631.5 929.1)">R916</text>
<text x="2556.7" y="935" font-size="14" textLength="9.1" lengthAdjust="spacingAndGlyphs" transform="rotate(0.9 2557.5 935)" opacity="0.85">2</text>
<text x="2103.7" y="907.5" font-size="17.5" textLength="20.1" lengthAdjust="spacingAndGlyphs" transform="rotate(0.9 2104.5 907.5)">43</text>
<path d="M2098 930.6L2335.7 934.3L2338.7 933.1L2342.2 929.9" stroke-width="3.2" fill="none" stroke-linejoin="round"/>
<path d="M2347.2 929.9L2350.7 933.5L2354.7 934.6L2576.1 938.1" stroke-width="3.2" fill="none" stroke-linejoin="round"/>
<path d="M2576.1 938.1L2580.2 930.1L2584.5 946.2L2588.8 930.3L2593.1 946.3L2597.4 930.4L2601.7 946.5L2605.9 930.5L2609.6 941.1L2614.1 940.2" stroke-width="2" fill="none" stroke-linejoin="miter"/>
<circle cx="2617.6" cy="940.2" r="3.2" stroke-width="1.8" fill="#fff"/>
<path d="M2617.6 933.2L2617.4 947.2" stroke-width="1.6"/>
<text x="2630.3" y="947.2" font-size="17.5" textLength="41.6" lengthAdjust="spacingAndGlyphs" transform="rotate(0.9 2631.1 947.2)">R916</text>
<text x="2556.3" y="953.1" font-size="14" textLength="9.1" lengthAdjust="spacingAndGlyphs" transform="rotate(0.9 2557.1 953.1)" opacity="0.85">3</text>
<text x="2103.2" y="925.6" font-size="17.5" textLength="20.1" lengthAdjust="spacingAndGlyphs" transform="rotate(0.9 2104 925.6)">42</text>
<path d="M2097.5 948.6L2335.2 952.4L2338.2 951.2L2341.7 948" stroke-width="3.2" fill="none" stroke-linejoin="round"/>
<path d="M2346.7 948L2350.2 951.6L2354.2 952.7L2575.6 956.1" stroke-width="3.2" fill="none" stroke-linejoin="round"/>
<path d="M2575.6 956.1L2579.8 948.2L2584.1 964.3L2588.4 948.3L2592.6 964.4L2596.9 948.5L2601.2 964.5L2605.5 948.6L2609.1 959.2L2613.6 958.2" stroke-width="2" fill="none" stroke-linejoin="miter"/>
<circle cx="2617.1" cy="958.3" r="3.2" stroke-width="1.8" fill="#fff"/>
<path d="M2617.1 951.3L2616.9 965.3" stroke-width="1.6"/>
<text x="2629.8" y="965.3" font-size="17.5" textLength="41.6" lengthAdjust="spacingAndGlyphs" transform="rotate(0.9 2630.6 965.3)">R916</text>
<text x="2555.8" y="971.1" font-size="14" textLength="9.1" lengthAdjust="spacingAndGlyphs" transform="rotate(0.9 2556.6 971.1)" opacity="0.85">4</text>
<text x="2102.7" y="943.6" font-size="17.5" textLength="20.1" lengthAdjust="spacingAndGlyphs" transform="rotate(0.9 2103.5 943.6)">41</text>
<path d="M2097.1 966.7L2334.7 970.4L2337.7 969.3L2341.2 966.1" stroke-width="3.2" fill="none" stroke-linejoin="round"/>
<path d="M2346.2 966.1L2349.7 969.7L2353.7 970.7L2575.2 974.2" stroke-width="3.2" fill="none" stroke-linejoin="round"/>
<path d="M2575.2 974.2L2579.3 966.3L2583.6 982.4L2587.9 966.4L2592.2 982.5L2596.5 966.6L2600.8 982.6L2605 966.7L2608.7 977.3L2613.2 976.3" stroke-width="2" fill="none" stroke-linejoin="miter"/>
<circle cx="2616.7" cy="976.4" r="3.2" stroke-width="1.8" fill="#fff"/>
<path d="M2616.7 969.4L2616.5 983.4" stroke-width="1.6"/>
<text x="2629.4" y="983.4" font-size="17.5" textLength="41.6" lengthAdjust="spacingAndGlyphs" transform="rotate(0.9 2630.2 983.4)">R916</text>
<text x="2555.4" y="989.2" font-size="14" textLength="9.1" lengthAdjust="spacingAndGlyphs" transform="rotate(0.9 2556.2 989.2)" opacity="0.85">5</text>
<text x="2102.3" y="961.7" font-size="17.5" textLength="20.1" lengthAdjust="spacingAndGlyphs" transform="rotate(0.9 2103.1 961.7)">40</text>
<path d="M2096.6 984.8L2334.1 988.5L2337.1 987.4L2340.6 984.2" stroke-width="3.2" fill="none" stroke-linejoin="round"/>
<path d="M2345.6 984.2L2349.1 987.8L2353.1 988.8L2574.7 992.3" stroke-width="3.2" fill="none" stroke-linejoin="round"/>
<path d="M2574.7 992.3L2578.9 984.4L2583.2 1000.4L2587.5 984.5L2591.7 1000.6L2596 984.6L2600.3 1000.7L2604.6 984.8L2608.2 995.3L2612.7 994.4" stroke-width="2" fill="none" stroke-linejoin="miter"/>
<circle cx="2616.2" cy="994.5" r="3.2" stroke-width="1.8" fill="#fff"/>
<path d="M2616.2 987.5L2616 1001.5" stroke-width="1.6"/>
<text x="2628.9" y="1001.5" font-size="17.5" textLength="41.6" lengthAdjust="spacingAndGlyphs" transform="rotate(0.9 2629.7 1001.5)">R916</text>
<text x="2554.9" y="1007.3" font-size="14" textLength="9.1" lengthAdjust="spacingAndGlyphs" transform="rotate(0.9 2555.7 1007.3)" opacity="0.85">6</text>
<text x="2101.8" y="979.8" font-size="17.5" textLength="20.1" lengthAdjust="spacingAndGlyphs" transform="rotate(0.9 2102.6 979.8)">39</text>
<path d="M2096.2 1002.9L2333.6 1006.6L2336.6 1005.5L2340.1 1002.3" stroke-width="3.2" fill="none" stroke-linejoin="round"/>
<path d="M2345.1 1002.3L2348.6 1005.8L2352.6 1006.9L2574.3 1010.4" stroke-width="3.2" fill="none" stroke-linejoin="round"/>
<path d="M2574.3 1010.4L2578.4 1002.5L2582.7 1018.5L2587 1002.6L2591.3 1018.7L2595.6 1002.7L2599.9 1018.8L2604.2 1002.9L2607.8 1013.4L2612.3 1012.5" stroke-width="2" fill="none" stroke-linejoin="miter"/>
<circle cx="2615.8" cy="1012.5" r="3.2" stroke-width="1.8" fill="#fff"/>
<path d="M2615.8 1005.5L2615.6 1019.5" stroke-width="1.6"/>
<text x="2628.5" y="1019.5" font-size="17.5" textLength="41.6" lengthAdjust="spacingAndGlyphs" transform="rotate(0.9 2629.3 1019.5)">R916</text>
<text x="2554.5" y="1025.4" font-size="14" textLength="9.1" lengthAdjust="spacingAndGlyphs" transform="rotate(0.9 2555.3 1025.4)" opacity="0.85">7</text>
<text x="2101.4" y="997.9" font-size="17.5" textLength="20.1" lengthAdjust="spacingAndGlyphs" transform="rotate(0.9 2102.2 997.9)">38</text>
<path d="M2095.7 1021L2333.1 1024.7L2336.1 1023.5L2339.6 1020.3" stroke-width="3.2" fill="none" stroke-linejoin="round"/>
<path d="M2344.6 1020.3L2348.1 1023.9L2352.1 1025L2573.9 1028.5" stroke-width="3.2" fill="none" stroke-linejoin="round"/>
<path d="M2573.9 1028.5L2578 1020.5L2582.3 1036.6L2586.6 1020.7L2590.9 1036.7L2595.1 1020.8L2599.4 1036.9L2603.7 1020.9L2607.4 1031.5L2611.9 1030.6" stroke-width="2" fill="none" stroke-linejoin="miter"/>
<circle cx="2615.4" cy="1030.6" r="3.2" stroke-width="1.8" fill="#fff"/>
<path d="M2615.4 1023.6L2615.2 1037.6" stroke-width="1.6"/>
<text x="2628.1" y="1037.6" font-size="17.5" textLength="41.6" lengthAdjust="spacingAndGlyphs" transform="rotate(0.9 2628.9 1037.6)">R916</text>
<text x="2554.1" y="1043.5" font-size="14" textLength="9.1" lengthAdjust="spacingAndGlyphs" transform="rotate(0.9 2554.9 1043.5)" opacity="0.85">8</text>
<text x="2100.9" y="1016" font-size="17.5" textLength="20.1" lengthAdjust="spacingAndGlyphs" transform="rotate(0.9 2101.7 1016)">37</text>
<path d="M2095.3 1039L2332.6 1042.8L2335.6 1041.6L2339.1 1038.4" stroke-width="3.2" fill="none" stroke-linejoin="round"/>
<path d="M2344.1 1038.4L2347.6 1042L2351.6 1043.1L2573.4 1046.6" stroke-width="3.2" fill="none" stroke-linejoin="round"/>
<path d="M2573.4 1046.6L2577.6 1038.6L2581.8 1054.7L2586.1 1038.8L2590.4 1054.8L2594.7 1038.9L2599 1055L2603.3 1039L2606.9 1049.6L2611.4 1048.7" stroke-width="2" fill="none" stroke-linejoin="miter"/>
<circle cx="2614.9" cy="1048.7" r="3.2" stroke-width="1.8" fill="#fff"/>
<path d="M2614.9 1041.7L2614.7 1055.7" stroke-width="1.6"/>
<text x="2627.6" y="1055.7" font-size="17.5" textLength="41.6" lengthAdjust="spacingAndGlyphs" transform="rotate(0.9 2628.4 1055.7)">R916</text>
<text x="2553.6" y="1061.6" font-size="14" textLength="9.1" lengthAdjust="spacingAndGlyphs" transform="rotate(0.9 2554.4 1061.6)" opacity="0.85">9</text>
<text x="2100.5" y="1034" font-size="17.5" textLength="20.1" lengthAdjust="spacingAndGlyphs" transform="rotate(0.9 2101.3 1034)">36</text>
<path d="M2094.8 1057.1L2332.1 1060.9L2335.1 1059.7L2338.6 1056.5" stroke-width="3.2" fill="none" stroke-linejoin="round"/>
<path d="M2343.6 1056.5L2347.1 1060.1L2351.1 1061.2L2573 1064.6" stroke-width="3.2" fill="none" stroke-linejoin="round"/>
<path d="M2573 1064.6L2577.1 1056.7L2581.4 1072.8L2585.7 1056.8L2590 1072.9L2594.3 1057L2598.5 1073L2602.8 1057.1L2606.5 1067.7L2611 1066.7" stroke-width="2" fill="none" stroke-linejoin="miter"/>
<circle cx="2614.5" cy="1066.8" r="3.2" stroke-width="1.8" fill="#fff"/>
<path d="M2614.5 1059.8L2614.3 1073.8" stroke-width="1.6"/>
<text x="2627.2" y="1073.8" font-size="17.5" textLength="41.6" lengthAdjust="spacingAndGlyphs" transform="rotate(0.9 2628 1073.8)">R917</text>
<text x="2553.2" y="1079.6" font-size="14" textLength="9.1" lengthAdjust="spacingAndGlyphs" transform="rotate(0.9 2554 1079.6)" opacity="0.85">2</text>
<text x="2100" y="1052.1" font-size="17.5" textLength="20.1" lengthAdjust="spacingAndGlyphs" transform="rotate(0.9 2100.8 1052.1)">35</text>
<path d="M2094.4 1075.2L2331.6 1078.9L2334.6 1077.8L2338.1 1074.6" stroke-width="3.2" fill="none" stroke-linejoin="round"/>
<path d="M2343.1 1074.6L2346.6 1078.2L2350.6 1079.2L2572.5 1082.7" stroke-width="3.2" fill="none" stroke-linejoin="round"/>
<path d="M2572.5 1082.7L2576.7 1074.8L2581 1090.9L2585.2 1074.9L2589.5 1091L2593.8 1075.1L2598.1 1091.1L2602.4 1075.2L2606 1085.7L2610.5 1084.8" stroke-width="2" fill="none" stroke-linejoin="miter"/>
<circle cx="2614" cy="1084.9" r="3.2" stroke-width="1.8" fill="#fff"/>
<path d="M2614 1077.9L2613.8 1091.9" stroke-width="1.6"/>
<text x="2626.7" y="1091.9" font-size="17.5" textLength="41.6" lengthAdjust="spacingAndGlyphs" transform="rotate(0.9 2627.5 1091.9)">R917</text>
<text x="2552.7" y="1097.7" font-size="14" textLength="9.1" lengthAdjust="spacingAndGlyphs" transform="rotate(0.9 2553.5 1097.7)" opacity="0.85">3</text>
<text x="2099.6" y="1070.2" font-size="17.5" textLength="20.1" lengthAdjust="spacingAndGlyphs" transform="rotate(0.9 2100.4 1070.2)">34</text>
<path d="M2093.9 1093.3L2331.1 1097L2334.1 1095.9L2337.6 1092.7" stroke-width="3.2" fill="none" stroke-linejoin="round"/>
<path d="M2342.6 1092.7L2346.1 1096.3L2350.1 1097.3L2572.1 1100.8" stroke-width="3.2" fill="none" stroke-linejoin="round"/>
<path d="M2572.1 1100.8L2576.2 1092.9L2580.5 1108.9L2584.8 1093L2589.1 1109.1L2593.4 1093.1L2597.7 1109.2L2601.9 1093.3L2605.6 1103.8L2610.1 1102.9" stroke-width="2" fill="none" stroke-linejoin="miter"/>
<circle cx="2613.6" cy="1103" r="3.2" stroke-width="1.8" fill="#fff"/>
<path d="M2613.6 1096L2613.4 1110" stroke-width="1.6"/>
<text x="2626.3" y="1110" font-size="17.5" textLength="41.6" lengthAdjust="spacingAndGlyphs" transform="rotate(0.9 2627.1 1110)">R917</text>
<text x="2552.3" y="1115.8" font-size="14" textLength="9.1" lengthAdjust="spacingAndGlyphs" transform="rotate(0.9 2553.1 1115.8)" opacity="0.85">4</text>
<text x="2099.1" y="1088.3" font-size="17.5" textLength="20.1" lengthAdjust="spacingAndGlyphs" transform="rotate(0.9 2099.9 1088.3)">33</text>
<path d="M2093.4 1111.4L2330.6 1115.1L2333.6 1114L2337.1 1110.7" stroke-width="3.2" fill="none" stroke-linejoin="round"/>
<path d="M2342.1 1110.7L2345.6 1114.3L2349.6 1115.4L2571.6 1118.9" stroke-width="3.2" fill="none" stroke-linejoin="round"/>
<path d="M2571.6 1118.9L2575.8 1111L2580.1 1127L2584.4 1111.1L2588.6 1127.2L2592.9 1111.2L2597.2 1127.3L2601.5 1111.4L2605.1 1121.9L2609.6 1121" stroke-width="2" fill="none" stroke-linejoin="miter"/>
<circle cx="2613.1" cy="1121" r="3.2" stroke-width="1.8" fill="#fff"/>
<path d="M2613.1 1114L2612.9 1128" stroke-width="1.6"/>
<text x="2625.8" y="1128" font-size="17.5" textLength="41.6" lengthAdjust="spacingAndGlyphs" transform="rotate(0.9 2626.6 1128)">R917</text>
<text x="2551.8" y="1133.9" font-size="14" textLength="9.1" lengthAdjust="spacingAndGlyphs" transform="rotate(0.9 2552.6 1133.9)" opacity="0.85">9</text>
<text x="2098.6" y="1106.4" font-size="17.5" textLength="20.1" lengthAdjust="spacingAndGlyphs" transform="rotate(0.9 2099.4 1106.4)">32</text>
<path d="M2093 1129.5L2330.1 1133.2L2333.1 1132L2336.6 1128.8" stroke-width="3.2" fill="none" stroke-linejoin="round"/>
<path d="M2341.6 1128.8L2345.1 1132.4L2349.1 1133.5L2571.2 1137" stroke-width="3.2" fill="none" stroke-linejoin="round"/>
<path d="M2571.2 1137L2575.3 1129L2579.6 1145.1L2583.9 1129.2L2588.2 1145.2L2592.5 1129.3L2596.8 1145.4L2601.1 1129.4L2604.7 1140L2609.2 1139.1" stroke-width="2" fill="none" stroke-linejoin="miter"/>
<circle cx="2612.7" cy="1139.1" r="3.2" stroke-width="1.8" fill="#fff"/>
<path d="M2612.7 1132.1L2612.5 1146.1" stroke-width="1.6"/>
<text x="2625.4" y="1146.1" font-size="17.5" textLength="41.6" lengthAdjust="spacingAndGlyphs" transform="rotate(0.9 2626.2 1146.1)">R917</text>
<text x="2551.4" y="1152" font-size="14" textLength="9.1" lengthAdjust="spacingAndGlyphs" transform="rotate(0.9 2552.2 1152)" opacity="0.85">8</text>
<text x="2098.2" y="1124.5" font-size="17.5" textLength="20.1" lengthAdjust="spacingAndGlyphs" transform="rotate(0.9 2099 1124.5)">31</text>
<path d="M2092.5 1147.5L2329.6 1151.3L2332.6 1150.1L2336.1 1146.9" stroke-width="3.2" fill="none" stroke-linejoin="round"/>
<path d="M2341.1 1146.9L2344.6 1150.5L2348.6 1151.6L2570.8 1155.1" stroke-width="3.2" fill="none" stroke-linejoin="round"/>
<path d="M2570.8 1155.1L2574.9 1147.1L2579.2 1163.2L2583.5 1147.3L2587.8 1163.3L2592 1147.4L2596.3 1163.5L2600.6 1147.5L2604.3 1158.1L2608.8 1157.2" stroke-width="2" fill="none" stroke-linejoin="miter"/>
<circle cx="2612.3" cy="1157.2" r="3.2" stroke-width="1.8" fill="#fff"/>
<path d="M2612.3 1150.2L2612.1 1164.2" stroke-width="1.6"/>
<text x="2625" y="1164.2" font-size="17.5" textLength="41.6" lengthAdjust="spacingAndGlyphs" transform="rotate(0.9 2625.8 1164.2)">R917</text>
<text x="2551" y="1170.1" font-size="14" textLength="9.1" lengthAdjust="spacingAndGlyphs" transform="rotate(0.9 2551.8 1170.1)" opacity="0.85">7</text>
<text x="2097.7" y="1142.5" font-size="17.5" textLength="20.1" lengthAdjust="spacingAndGlyphs" transform="rotate(0.9 2098.5 1142.5)">30</text>
<path d="M2092.1 1165.6L2329 1169.3L2332 1168.2L2335.5 1165" stroke-width="3.2" fill="none" stroke-linejoin="round"/>
<path d="M2340.5 1165L2344 1168.6L2348 1169.6L2570.3 1173.1" stroke-width="3.2" fill="none" stroke-linejoin="round"/>
<path d="M2570.3 1173.1L2574.5 1165.2L2578.7 1181.3L2583 1165.3L2587.3 1181.4L2591.6 1165.5L2595.9 1181.5L2600.2 1165.6L2603.8 1176.2L2608.3 1175.2" stroke-width="2" fill="none" stroke-linejoin="miter"/>
<circle cx="2611.8" cy="1175.3" r="3.2" stroke-width="1.8" fill="#fff"/>
<path d="M2611.8 1168.3L2611.6 1182.3" stroke-width="1.6"/>
<text x="2624.5" y="1182.3" font-size="17.5" textLength="41.6" lengthAdjust="spacingAndGlyphs" transform="rotate(0.9 2625.3 1182.3)">R917</text>
<text x="2550.5" y="1188.1" font-size="14" textLength="9.1" lengthAdjust="spacingAndGlyphs" transform="rotate(0.9 2551.3 1188.1)" opacity="0.85">6</text>
<text x="2097.3" y="1160.6" font-size="17.5" textLength="20.1" lengthAdjust="spacingAndGlyphs" transform="rotate(0.9 2098.1 1160.6)">29</text>
<path d="M2090.1 1244.6L2327.5 1248.3L2330.5 1247.2L2334 1244" stroke-width="3.2" fill="none" stroke-linejoin="round"/>
<path d="M2339 1244L2342.5 1247.6L2346.5 1248.6L2567.5 1252.1" stroke-width="3.2" fill="none" stroke-linejoin="round"/>
<path d="M2567.5 1252.1L2571.6 1244.1L2575.9 1260.2L2580.2 1244.3L2584.5 1260.4L2588.8 1244.4L2593.1 1260.5L2597.4 1244.6L2601 1255.1L2605.5 1254.2" stroke-width="2" fill="none" stroke-linejoin="miter"/>
<circle cx="2609" cy="1254.2" r="3.2" stroke-width="1.8" fill="#fff"/>
<path d="M2609 1247.2L2608.8 1261.2" stroke-width="1.6"/>
<text x="2621.7" y="1261.2" font-size="17.5" textLength="30.6" lengthAdjust="spacingAndGlyphs" transform="rotate(0.9 2622.5 1261.2)">R99</text>
<text x="2547.7" y="1267.1" font-size="14" textLength="9.1" lengthAdjust="spacingAndGlyphs" transform="rotate(0.9 2548.5 1267.1)" opacity="0.85">9</text>
<text x="2095.3" y="1239.6" font-size="17.5" textLength="20.1" lengthAdjust="spacingAndGlyphs" transform="rotate(0.9 2096.1 1239.6)">54</text>
<path d="M2089.6 1262.5L2327.1 1266.2L2330.1 1265.1L2333.6 1261.9" stroke-width="3.2" fill="none" stroke-linejoin="round"/>
<path d="M2338.6 1261.9L2342.1 1265.4L2346.1 1266.5L2567 1270" stroke-width="3.2" fill="none" stroke-linejoin="round"/>
<path d="M2567 1270L2571.1 1262L2575.4 1278.1L2579.7 1262.2L2584 1278.2L2588.3 1262.3L2592.6 1278.4L2596.9 1262.4L2600.5 1273L2605 1272.1" stroke-width="2" fill="none" stroke-linejoin="miter"/>
<circle cx="2608.5" cy="1272.1" r="3.2" stroke-width="1.8" fill="#fff"/>
<path d="M2608.5 1265.1L2608.3 1279.1" stroke-width="1.6"/>
<text x="2621.2" y="1279.1" font-size="17.5" textLength="30.6" lengthAdjust="spacingAndGlyphs" transform="rotate(0.9 2622 1279.1)">R99</text>
<text x="2547.2" y="1285" font-size="14" textLength="9.1" lengthAdjust="spacingAndGlyphs" transform="rotate(0.9 2548 1285)" opacity="0.85">8</text>
<text x="2094.8" y="1257.5" font-size="17.5" textLength="20.1" lengthAdjust="spacingAndGlyphs" transform="rotate(0.9 2095.6 1257.5)">55</text>
<path d="M2089.2 1280.4L2326.6 1284.1L2329.6 1282.9L2333.1 1279.7" stroke-width="3.2" fill="none" stroke-linejoin="round"/>
<path d="M2338.1 1279.7L2341.6 1283.3L2345.6 1284.4L2566.5 1287.9" stroke-width="3.2" fill="none" stroke-linejoin="round"/>
<path d="M2566.5 1287.9L2570.6 1279.9L2574.9 1296L2579.2 1280.1L2583.5 1296.1L2587.8 1280.2L2592.1 1296.3L2596.3 1280.3L2600 1290.9L2604.5 1290" stroke-width="2" fill="none" stroke-linejoin="miter"/>
<circle cx="2608" cy="1290" r="3.2" stroke-width="1.8" fill="#fff"/>
<path d="M2608 1283L2607.8 1297" stroke-width="1.6"/>
<text x="2620.7" y="1297" font-size="17.5" textLength="30.6" lengthAdjust="spacingAndGlyphs" transform="rotate(0.9 2621.5 1297)">R99</text>
<text x="2546.7" y="1302.9" font-size="14" textLength="9.1" lengthAdjust="spacingAndGlyphs" transform="rotate(0.9 2547.5 1302.9)" opacity="0.85">7</text>
<text x="2094.4" y="1275.4" font-size="17.5" textLength="20.1" lengthAdjust="spacingAndGlyphs" transform="rotate(0.9 2095.2 1275.4)">56</text>
<path d="M2088.7 1298.3L2326.1 1302L2329.1 1300.8L2332.6 1297.6" stroke-width="3.2" fill="none" stroke-linejoin="round"/>
<path d="M2337.6 1297.6L2341.1 1301.2L2345.1 1302.3L2566 1305.8" stroke-width="3.2" fill="none" stroke-linejoin="round"/>
<path d="M2566 1305.8L2570.1 1297.8L2574.4 1313.9L2578.7 1298L2583 1314L2587.3 1298.1L2591.6 1314.2L2595.8 1298.2L2599.5 1308.8L2604 1307.9" stroke-width="2" fill="none" stroke-linejoin="miter"/>
<circle cx="2607.5" cy="1307.9" r="3.2" stroke-width="1.8" fill="#fff"/>
<path d="M2607.5 1300.9L2607.3 1314.9" stroke-width="1.6"/>
<text x="2620.2" y="1314.9" font-size="17.5" textLength="30.6" lengthAdjust="spacingAndGlyphs" transform="rotate(0.9 2621 1314.9)">R99</text>
<text x="2546.2" y="1320.8" font-size="14" textLength="9.1" lengthAdjust="spacingAndGlyphs" transform="rotate(0.9 2547 1320.8)" opacity="0.85">6</text>
<text x="2093.9" y="1293.3" font-size="17.5" textLength="20.1" lengthAdjust="spacingAndGlyphs" transform="rotate(0.9 2094.7 1293.3)">57</text>
<path d="M2088.3 1316.2L2325.7 1319.9L2328.7 1318.7L2332.2 1315.5" stroke-width="3.2" fill="none" stroke-linejoin="round"/>
<path d="M2337.2 1315.5L2340.7 1319.1L2344.7 1320.2L2565.5 1323.7" stroke-width="3.2" fill="none" stroke-linejoin="round"/>
<path d="M2565.5 1323.7L2569.6 1315.7L2573.9 1331.8L2578.2 1315.9L2582.5 1331.9L2586.8 1316L2591.1 1332.1L2595.3 1316.1L2599 1326.7L2603.5 1325.7" stroke-width="2" fill="none" stroke-linejoin="miter"/>
<circle cx="2607" cy="1325.8" r="3.2" stroke-width="1.8" fill="#fff"/>
<path d="M2607 1318.8L2606.8 1332.8" stroke-width="1.6"/>
<text x="2619.7" y="1332.8" font-size="17.5" textLength="30.6" lengthAdjust="spacingAndGlyphs" transform="rotate(0.9 2620.5 1332.8)">R99</text>
<text x="2545.7" y="1338.7" font-size="14" textLength="9.1" lengthAdjust="spacingAndGlyphs" transform="rotate(0.9 2546.5 1338.7)" opacity="0.85">5</text>
<text x="2093.5" y="1311.2" font-size="17.5" textLength="20.1" lengthAdjust="spacingAndGlyphs" transform="rotate(0.9 2094.3 1311.2)">58</text>
<path d="M2087.8 1334.1L2325.2 1337.8L2328.2 1336.6L2331.7 1333.4" stroke-width="3.2" fill="none" stroke-linejoin="round"/>
<path d="M2336.7 1333.4L2340.2 1337L2344.2 1338.1L2565 1341.5" stroke-width="3.2" fill="none" stroke-linejoin="round"/>
<path d="M2565 1341.5L2569.1 1333.6L2573.4 1349.7L2577.7 1333.7L2582 1349.8L2586.3 1333.9L2590.6 1349.9L2594.8 1334L2598.5 1344.6L2603 1343.6" stroke-width="2" fill="none" stroke-linejoin="miter"/>
<circle cx="2606.5" cy="1343.7" r="3.2" stroke-width="1.8" fill="#fff"/>
<path d="M2606.5 1336.7L2606.3 1350.7" stroke-width="1.6"/>
<text x="2619.2" y="1350.7" font-size="17.5" textLength="30.6" lengthAdjust="spacingAndGlyphs" transform="rotate(0.9 2620 1350.7)">R99</text>
<text x="2545.2" y="1356.5" font-size="14" textLength="9.1" lengthAdjust="spacingAndGlyphs" transform="rotate(0.9 2546 1356.5)" opacity="0.85">4</text>
<text x="2093" y="1329.1" font-size="17.5" textLength="20.1" lengthAdjust="spacingAndGlyphs" transform="rotate(0.9 2093.8 1329.1)">59</text>
<path d="M2087.4 1351.9L2324.8 1355.7L2327.8 1354.5L2331.3 1351.3" stroke-width="3.2" fill="none" stroke-linejoin="round"/>
<path d="M2336.3 1351.3L2339.8 1354.9L2343.8 1356L2564.5 1359.4" stroke-width="3.2" fill="none" stroke-linejoin="round"/>
<path d="M2564.5 1359.4L2568.6 1351.5L2572.9 1367.6L2577.2 1351.6L2581.5 1367.7L2585.8 1351.8L2590.1 1367.8L2594.3 1351.9L2598 1362.5L2602.5 1361.5" stroke-width="2" fill="none" stroke-linejoin="miter"/>
<circle cx="2606" cy="1361.6" r="3.2" stroke-width="1.8" fill="#fff"/>
<path d="M2606 1354.6L2605.8 1368.6" stroke-width="1.6"/>
<text x="2618.7" y="1368.6" font-size="17.5" textLength="30.6" lengthAdjust="spacingAndGlyphs" transform="rotate(0.9 2619.5 1368.6)">R99</text>
<text x="2544.7" y="1374.4" font-size="14" textLength="9.1" lengthAdjust="spacingAndGlyphs" transform="rotate(0.9 2545.5 1374.4)" opacity="0.85">3</text>
<text x="2092.6" y="1346.9" font-size="17.5" textLength="20.1" lengthAdjust="spacingAndGlyphs" transform="rotate(0.9 2093.4 1346.9)">60</text>
<path d="M2086.9 1369.8L2324.3 1373.6L2327.3 1372.4L2330.8 1369.2" stroke-width="3.2" fill="none" stroke-linejoin="round"/>
<path d="M2335.8 1369.2L2339.3 1372.8L2343.3 1373.9L2564 1377.3" stroke-width="3.2" fill="none" stroke-linejoin="round"/>
<path d="M2564 1377.3L2568.1 1369.4L2572.4 1385.5L2576.7 1369.5L2581 1385.6L2585.3 1369.7L2589.6 1385.7L2593.8 1369.8L2597.5 1380.4L2602 1379.4" stroke-width="2" fill="none" stroke-linejoin="miter"/>
<circle cx="2605.5" cy="1379.5" r="3.2" stroke-width="1.8" fill="#fff"/>
<path d="M2605.5 1372.5L2605.3 1386.5" stroke-width="1.6"/>
<text x="2618.2" y="1386.5" font-size="17.5" textLength="30.6" lengthAdjust="spacingAndGlyphs" transform="rotate(0.9 2619 1386.5)">R99</text>
<text x="2544.2" y="1392.3" font-size="14" textLength="9.1" lengthAdjust="spacingAndGlyphs" transform="rotate(0.9 2545 1392.3)" opacity="0.85">2</text>
<text x="2092.1" y="1364.8" font-size="17.5" textLength="20.1" lengthAdjust="spacingAndGlyphs" transform="rotate(0.9 2092.9 1364.8)">61</text>
<path d="M2086.5 1387.7L2323.8 1391.5L2326.8 1390.3L2330.3 1387.1" stroke-width="3.2" fill="none" stroke-linejoin="round"/>
<path d="M2335.3 1387.1L2338.8 1390.7L2342.8 1391.8L2563.5 1395.2" stroke-width="3.2" fill="none" stroke-linejoin="round"/>
<path d="M2563.5 1395.2L2567.6 1387.3L2571.9 1403.4L2576.2 1387.4L2580.5 1403.5L2584.8 1387.6L2589.1 1403.6L2593.3 1387.7L2597 1398.2L2601.5 1397.3" stroke-width="2" fill="none" stroke-linejoin="miter"/>
<circle cx="2605" cy="1397.4" r="3.2" stroke-width="1.8" fill="#fff"/>
<path d="M2605 1390.4L2604.8 1404.4" stroke-width="1.6"/>
<text x="2617.7" y="1404.4" font-size="17.5" textLength="30.6" lengthAdjust="spacingAndGlyphs" transform="rotate(0.9 2618.5 1404.4)">R94</text>
<text x="2543.7" y="1410.2" font-size="14" textLength="9.1" lengthAdjust="spacingAndGlyphs" transform="rotate(0.9 2544.5 1410.2)" opacity="0.85">2</text>
<text x="2091.7" y="1382.7" font-size="17.5" textLength="20.1" lengthAdjust="spacingAndGlyphs" transform="rotate(0.9 2092.5 1382.7)">62</text>
<path d="M2086 1405.6L2323.4 1409.4L2326.4 1408.2L2329.9 1405" stroke-width="3.2" fill="none" stroke-linejoin="round"/>
<path d="M2334.9 1405L2338.4 1408.6L2342.4 1409.6L2563 1413.1" stroke-width="3.2" fill="none" stroke-linejoin="round"/>
<path d="M2563 1413.1L2567.1 1405.2L2571.4 1421.2L2575.7 1405.3L2580 1421.4L2584.3 1405.4L2588.6 1421.5L2592.8 1405.6L2596.5 1416.1L2601 1415.2" stroke-width="2" fill="none" stroke-linejoin="miter"/>
<circle cx="2604.5" cy="1415.3" r="3.2" stroke-width="1.8" fill="#fff"/>
<path d="M2604.5 1408.3L2604.3 1422.3" stroke-width="1.6"/>
<text x="2617.2" y="1422.3" font-size="17.5" textLength="30.6" lengthAdjust="spacingAndGlyphs" transform="rotate(0.9 2618 1422.3)">R94</text>
<text x="2543.2" y="1428.1" font-size="14" textLength="9.1" lengthAdjust="spacingAndGlyphs" transform="rotate(0.9 2544 1428.1)" opacity="0.85">3</text>
<text x="2091.2" y="1400.6" font-size="17.5" textLength="20.1" lengthAdjust="spacingAndGlyphs" transform="rotate(0.9 2092 1400.6)">63</text>
<path d="M2085.6 1423.5L2322.9 1427.2L2325.9 1426.1L2329.4 1422.9" stroke-width="3.2" fill="none" stroke-linejoin="round"/>
<path d="M2334.4 1422.9L2337.9 1426.5L2341.9 1427.5L2562.5 1431" stroke-width="3.2" fill="none" stroke-linejoin="round"/>
<path d="M2562.5 1431L2566.6 1423.1L2570.9 1439.1L2575.2 1423.2L2579.5 1439.3L2583.8 1423.3L2588.1 1439.4L2592.3 1423.5L2596 1434L2600.5 1433.1" stroke-width="2" fill="none" stroke-linejoin="miter"/>
<circle cx="2604" cy="1433.2" r="3.2" stroke-width="1.8" fill="#fff"/>
<path d="M2604 1426.2L2603.8 1440.2" stroke-width="1.6"/>
<text x="2616.7" y="1440.2" font-size="17.5" textLength="30.6" lengthAdjust="spacingAndGlyphs" transform="rotate(0.9 2617.5 1440.2)">R94</text>
<text x="2542.7" y="1446" font-size="14" textLength="9.1" lengthAdjust="spacingAndGlyphs" transform="rotate(0.9 2543.5 1446)" opacity="0.85">4</text>
<text x="2090.8" y="1418.5" font-size="17.5" textLength="20.1" lengthAdjust="spacingAndGlyphs" transform="rotate(0.9 2091.6 1418.5)">64</text>
<path d="M2085.1 1441.4L2322.4 1445.1L2325.4 1444L2328.9 1440.8" stroke-width="3.2" fill="none" stroke-linejoin="round"/>
<path d="M2333.9 1440.8L2337.4 1444.4L2341.4 1445.4L2562 1448.9" stroke-width="3.2" fill="none" stroke-linejoin="round"/>
<path d="M2562 1448.9L2566.1 1441L2570.4 1457L2574.7 1441.1L2579 1457.2L2583.3 1441.2L2587.6 1457.3L2591.8 1441.4L2595.5 1451.9L2600 1451" stroke-width="2" fill="none" stroke-linejoin="miter"/>
<circle cx="2603.5" cy="1451" r="3.2" stroke-width="1.8" fill="#fff"/>
<path d="M2603.5 1444L2603.3 1458" stroke-width="1.6"/>
<text x="2616.2" y="1458" font-size="17.5" textLength="30.6" lengthAdjust="spacingAndGlyphs" transform="rotate(0.9 2617 1458)">R94</text>
<text x="2542.2" y="1463.9" font-size="14" textLength="9.1" lengthAdjust="spacingAndGlyphs" transform="rotate(0.9 2543 1463.9)" opacity="0.85">5</text>
<text x="2104.3" y="1436.4" font-size="15" textLength="8.6" lengthAdjust="spacingAndGlyphs" transform="rotate(0.9 2105.1 1436.4)">1</text>
<path d="M2084.7 1459.3L2322 1463L2325 1461.9L2328.5 1458.7" stroke-width="3.2" fill="none" stroke-linejoin="round"/>
<path d="M2333.5 1458.7L2337 1462.3L2341 1463.3L2561.5 1466.8" stroke-width="3.2" fill="none" stroke-linejoin="round"/>
<path d="M2561.5 1466.8L2565.6 1458.9L2569.9 1474.9L2574.2 1459L2578.5 1475.1L2582.8 1459.1L2587.1 1475.2L2591.3 1459.3L2595 1469.8L2599.5 1468.9" stroke-width="2" fill="none" stroke-linejoin="miter"/>
<circle cx="2603" cy="1468.9" r="3.2" stroke-width="1.8" fill="#fff"/>
<path d="M2603 1461.9L2602.8 1475.9" stroke-width="1.6"/>
<text x="2615.7" y="1475.9" font-size="17.5" textLength="30.6" lengthAdjust="spacingAndGlyphs" transform="rotate(0.9 2616.5 1475.9)">R94</text>
<text x="2541.7" y="1481.8" font-size="14" textLength="9.1" lengthAdjust="spacingAndGlyphs" transform="rotate(0.9 2542.5 1481.8)" opacity="0.85">6</text>
<text x="2103.9" y="1454.3" font-size="15" textLength="8.6" lengthAdjust="spacingAndGlyphs" transform="rotate(0.9 2104.7 1454.3)">2</text>
<path d="M2084.2 1477.2L2321.5 1480.9L2324.5 1479.8L2328 1476.6" stroke-width="3.2" fill="none" stroke-linejoin="round"/>
<path d="M2333 1476.6L2336.5 1480.2L2340.5 1481.2L2561 1484.7" stroke-width="3.2" fill="none" stroke-linejoin="round"/>
<path d="M2561 1484.7L2565.1 1476.7L2569.4 1492.8L2573.7 1476.9L2578 1492.9L2582.3 1477L2586.6 1493.1L2590.8 1477.2L2594.5 1487.7L2599 1486.8" stroke-width="2" fill="none" stroke-linejoin="miter"/>
<circle cx="2602.5" cy="1486.8" r="3.2" stroke-width="1.8" fill="#fff"/>
<path d="M2602.5 1479.8L2602.3 1493.8" stroke-width="1.6"/>
<text x="2615.2" y="1493.8" font-size="17.5" textLength="30.6" lengthAdjust="spacingAndGlyphs" transform="rotate(0.9 2616 1493.8)">R94</text>
<text x="2541.2" y="1499.7" font-size="14" textLength="9.1" lengthAdjust="spacingAndGlyphs" transform="rotate(0.9 2542 1499.7)" opacity="0.85">7</text>
<text x="2103.4" y="1472.2" font-size="15" textLength="8.6" lengthAdjust="spacingAndGlyphs" transform="rotate(0.9 2104.2 1472.2)">3</text>
<path d="M2083.8 1495.1L2321.1 1498.8L2324.1 1497.7L2327.6 1494.5" stroke-width="3.2" fill="none" stroke-linejoin="round"/>
<path d="M2332.6 1494.5L2336.1 1498.1L2340.1 1499.1L2560.5 1502.6" stroke-width="3.2" fill="none" stroke-linejoin="round"/>
<path d="M2560.5 1502.6L2564.6 1494.6L2568.9 1510.7L2573.2 1494.8L2577.5 1510.8L2581.8 1494.9L2586 1511L2590.3 1495L2594 1505.6L2598.5 1504.7" stroke-width="2" fill="none" stroke-linejoin="miter"/>
<circle cx="2602" cy="1504.7" r="3.2" stroke-width="1.8" fill="#fff"/>
<path d="M2602 1497.7L2601.8 1511.7" stroke-width="1.6"/>
<text x="2614.7" y="1511.7" font-size="17.5" textLength="30.6" lengthAdjust="spacingAndGlyphs" transform="rotate(0.9 2615.5 1511.7)">R94</text>
<text x="2540.7" y="1517.6" font-size="14" textLength="9.1" lengthAdjust="spacingAndGlyphs" transform="rotate(0.9 2541.5 1517.6)" opacity="0.85">8</text>
<text x="2103" y="1490.1" font-size="15" textLength="8.6" lengthAdjust="spacingAndGlyphs" transform="rotate(0.9 2103.8 1490.1)">4</text>
<path d="M2083.3 1513L2320.6 1516.7L2323.6 1515.6L2327.1 1512.3" stroke-width="3.2" fill="none" stroke-linejoin="round"/>
<path d="M2332.1 1512.3L2335.6 1515.9L2339.6 1517L2560 1520.5" stroke-width="3.2" fill="none" stroke-linejoin="round"/>
<path d="M2560 1520.5L2564.1 1512.5L2568.4 1528.6L2572.7 1512.7L2577 1528.7L2581.3 1512.8L2585.5 1528.9L2589.8 1512.9L2593.5 1523.5L2598 1522.6" stroke-width="2" fill="none" stroke-linejoin="miter"/>
<circle cx="2601.5" cy="1522.6" r="3.2" stroke-width="1.8" fill="#fff"/>
<path d="M2601.5 1515.6L2601.3 1529.6" stroke-width="1.6"/>
<text x="2614.2" y="1529.6" font-size="17.5" textLength="30.6" lengthAdjust="spacingAndGlyphs" transform="rotate(0.9 2615 1529.6)">R94</text>
<text x="2540.2" y="1535.5" font-size="14" textLength="9.1" lengthAdjust="spacingAndGlyphs" transform="rotate(0.9 2541 1535.5)" opacity="0.85">9</text>
<text x="2102.5" y="1508" font-size="15" textLength="8.6" lengthAdjust="spacingAndGlyphs" transform="rotate(0.9 2103.3 1508)">5</text>
<path d="M2352 674.5L2338 1171" stroke-width="6.2" fill="none" stroke-linejoin="round"/>
<path d="M2337 1230L2327 1617" stroke-width="6.2" fill="none" stroke-linejoin="round"/>
<path d="M780.5 910L884 913L881.7 1016L780 1013.3Z" stroke-width="6" fill="none" stroke-linejoin="miter"/>
<text x="811.7" y="940" font-size="17.5" textLength="41.6" lengthAdjust="spacingAndGlyphs" transform="rotate(0.9 812.5 940)">IC75</text>
<text x="799.2" y="1011" font-size="17.5" textLength="61.6" lengthAdjust="spacingAndGlyphs" transform="rotate(0.9 800 1011)">M53771</text>
<text transform="translate(774 929.8) rotate(-89.2)" font-size="15" textLength="13.1" lengthAdjust="spacingAndGlyphs">3</text>
<path d="M765 933.6L778 933.8" stroke-width="3"/>
<text transform="translate(773 947.8) rotate(-89.2)" font-size="15" textLength="12.6" lengthAdjust="spacingAndGlyphs">1</text>
<text transform="translate(773 965.8) rotate(-89.2)" font-size="15" textLength="13.1" lengthAdjust="spacingAndGlyphs">2</text>
<text transform="translate(773 983.3) rotate(-89.2)" font-size="15" textLength="13.1" lengthAdjust="spacingAndGlyphs">4</text>
<path d="M778 951L626 948.2" stroke-width="3.5"/>
<path d="M626 948.2L625.2 982.5" stroke-width="2.9"/>
<path d="M778 969L732.5 968.4" stroke-width="3.3"/>
<path d="M732.5 968.4L730.8 987" stroke-width="2.7"/>
<path d="M729 986.4L778 987.2" stroke-width="4"/>
<rect x="727" y="983.5" width="5" height="7" fill="#1c1c1c" stroke="none"/>
<path d="M649 1001L784 1002.6" stroke-width="2"/>
<path d="M730.8 987L729.3 1054" stroke-width="2"/>
<path d="M720.3 1057.5L738.8 1057.9" stroke-width="3"/>
<path d="M724.8 1057.7L720.8 1066.7" stroke-width="2.4"/>
<path d="M733.8 1057.7L728.8 1067.2" stroke-width="2.4"/>
<text x="713.2" y="1079.5" font-size="17.5" textLength="32.6" lengthAdjust="spacingAndGlyphs" transform="rotate(0.9 714 1079.5)">GND</text>
<path d="M617.5 993.8L634 994.1" stroke-width="3"/>
<path d="M617.5 1001.8L634 1002.1" stroke-width="3"/>
<path d="M621 989L621 1006" stroke-width="2"/>
<path d="M629.5 989L629.5 1006" stroke-width="2"/>
<text x="621.2" y="988" font-size="10" textLength="5.6" lengthAdjust="spacingAndGlyphs" transform="rotate(0.9 622 988)">+</text>
<text transform="translate(612.5 1014.8) rotate(-89.2)" font-size="17" textLength="33.1" lengthAdjust="spacingAndGlyphs">C36</text>
<text transform="translate(647.5 1018.3) rotate(-89.2)" font-size="17" textLength="31.6" lengthAdjust="spacingAndGlyphs">10u</text>
<path d="M624.6 1010L624.3 1052.5" stroke-width="2.2"/>
<path d="M614.5 1054.8L633 1055.2" stroke-width="3"/>
<path d="M619 1055L615 1064" stroke-width="2.4"/>
<path d="M628 1055L623 1064.5" stroke-width="2.4"/>
<text x="606.7" y="1077.5" font-size="17.5" textLength="33.1" lengthAdjust="spacingAndGlyphs" transform="rotate(0.9 607.5 1077.5)">GND</text>
<text x="893.2" y="932.5" font-size="16" textLength="8.6" lengthAdjust="spacingAndGlyphs" transform="rotate(0.9 894 932.5)">8</text>
<text transform="translate(901 950.8) rotate(-89.2)" font-size="15" textLength="12.6" lengthAdjust="spacingAndGlyphs">7</text>
<text x="891.7" y="967.5" font-size="14" textLength="10.1" lengthAdjust="spacingAndGlyphs" transform="rotate(0.9 892.5 967.5)">6</text>
<text transform="translate(901 986.8) rotate(-89.2)" font-size="15" textLength="12.6" lengthAdjust="spacingAndGlyphs">5</text>
<path d="M887 953L1017.5 955" stroke-width="3.5"/>
<path d="M1017.5 955L1015.3 1080" stroke-width="2.9"/>
<path d="M1015.3 1080L1152 1082.2" stroke-width="3.5"/>
<path d="M887 971L921 971.5" stroke-width="3.3"/>
<path d="M921 971.5L920.5 989" stroke-width="2.7"/>
<path d="M887 989L960.5 990" stroke-width="3.5"/>
<circle cx="920.5" cy="989.5" r="3.6" fill="#1c1c1c" stroke="none"/>
<path d="M965.2 981L964.8 999" stroke-width="2.2" stroke-dasharray="3 2.5"/>
<circle cx="965" cy="990" r="3.6" stroke-width="2" fill="#fff"/>
<text transform="translate(985 1004.8) rotate(-89.2)" font-size="16.5" textLength="30.6" lengthAdjust="spacingAndGlyphs">+5V</text>
<text x="1065.2" y="966" font-size="17.5" textLength="30.6" lengthAdjust="spacingAndGlyphs" transform="rotate(0.9 1066 966)">+5V</text>
<path d="M1070 972.9L1089 973.1" stroke-width="3"/>
<circle cx="1079.5" cy="973" r="3.2" stroke-width="1.8" fill="#fff"/>
<path d="M1079.4 976L1078.7 1022.5" stroke-width="2.3"/>
<path d="M1078.7 1022.5L1087.6 1025.6L1069.4 1031.1L1087.2 1037.2L1069.1 1042.8L1086.9 1048.9L1068.7 1054.4L1077.6 1057.5" stroke-width="2.4" fill="none" stroke-linejoin="miter"/>
<path d="M1077.6 1057.5L1076.6 1080" stroke-width="2.3"/>
<text transform="translate(1065 1046.8) rotate(-89.2)" font-size="17" textLength="18.6" lengthAdjust="spacingAndGlyphs">R1</text>
<text transform="translate(1101 1061.8) rotate(-89.2)" font-size="17" textLength="41.6" lengthAdjust="spacingAndGlyphs">3.9K</text>
<rect x="1073.5" y="1078.2" width="5.5" height="5.5" fill="#666" stroke-width="1.8"/>
<path d="M1076.5 1084L1076 1121" stroke-width="2.3"/>
<path d="M1076 1121L1084.9 1123.8L1066.8 1128.7L1084.7 1134.3L1066.5 1139.2L1084.4 1144.8L1066.3 1149.7L1075.2 1152.5" stroke-width="2.4" fill="none" stroke-linejoin="miter"/>
<path d="M1075.2 1152.5L1074.6 1183" stroke-width="2.3"/>
<text transform="translate(1064 1144.8) rotate(-89.2)" font-size="17" textLength="20.6" lengthAdjust="spacingAndGlyphs">R2</text>
<text transform="translate(1099 1160.8) rotate(-89.2)" font-size="17" textLength="42.6" lengthAdjust="spacingAndGlyphs">5.1K</text>
<path d="M1065.8 1186.1L1084.3 1186.5" stroke-width="3"/>
<path d="M1070.3 1186.3L1066.3 1195.3" stroke-width="2.4"/>
<path d="M1079.3 1186.3L1074.3 1195.8" stroke-width="2.4"/>
<text x="1058.2" y="1207.5" font-size="17.5" textLength="31.6" lengthAdjust="spacingAndGlyphs" transform="rotate(0.9 1059 1207.5)">GND</text>
<path d="M1130.5 1174L1134 1004L1216 1006.5L1211.5 1176.3L1126 1174" stroke-width="2.7" fill="none" stroke-linejoin="miter" stroke-dasharray="9 6" stroke-linecap="butt"/>
<text x="1225.2" y="1005" font-size="35.5" textLength="63.1" lengthAdjust="spacingAndGlyphs" style="font-family:'Liberation Sans';font-weight:normal;" transform="rotate(0.9 1226 1005)">NOT</text>
<text x="1224.2" y="1044" font-size="35.5" textLength="120.6" lengthAdjust="spacingAndGlyphs" style="font-family:'Liberation Sans';font-weight:normal;" transform="rotate(0.9 1225 1044)">MOUNT</text>
<text x="1153.2" y="1070" font-size="16.5" textLength="41.6" lengthAdjust="spacingAndGlyphs" transform="rotate(0.9 1154 1070)">MRES</text>
<path d="M1151 1073.6L1195 1074.3" stroke-width="2.8"/>
<circle cx="1155.7" cy="1083.8" r="3.8" stroke-width="2.2" fill="#fff"/>
<circle cx="1191.3" cy="1084.4" r="3.8" stroke-width="2.2" fill="#fff"/>
<path d="M1159 1082L1195 1075.2" stroke-width="2.6"/>
<path d="M1151 1074L1150.7 1096" stroke-width="1.8" stroke-dasharray="4 3"/>
<path d="M1195 1075L1194.6 1097" stroke-width="1.8" stroke-dasharray="4 3"/>
<path d="M1136 1099.5L1209.5 1100.7" stroke-width="3.3"/>
<path d="M1195 1084.5L1245 1085.3" stroke-width="3"/>
<path d="M1245 1085.3L1244.3 1117.5" stroke-width="2.5"/>
<path d="M1234.6 1120.1L1253.1 1120.5" stroke-width="3"/>
<path d="M1239.1 1120.3L1235.1 1129.3" stroke-width="2.4"/>
<path d="M1248.1 1120.3L1243.1 1129.8" stroke-width="2.4"/>
<text x="1227.7" y="1140.5" font-size="17.5" textLength="31.1" lengthAdjust="spacingAndGlyphs" transform="rotate(0.9 1228.5 1140.5)">GND</text>
<path d="M1445 1338.8L1462.7 1339.1" stroke-width="3.3"/>
<path d="M1462.7 1339.1L1462.4 1350" stroke-width="2.7"/>
<path d="M1462.4 1350L1444.7 1349.7" stroke-width="3.3"/>
<text x="1468.2" y="1351" font-size="17.5" textLength="60.1" lengthAdjust="spacingAndGlyphs" transform="rotate(0.9 1469 1351)">/INTCL</text>
<path d="M1445 1345L1325 1343" stroke-width="3.3"/>
<path d="M1325 1343L1324.6 1388" stroke-width="2.7"/>
<text x="1273.2" y="1375" font-size="17.5" textLength="50.1" lengthAdjust="spacingAndGlyphs" transform="rotate(0.9 1274 1375)">IC118</text>
<text x="1271.7" y="1391" font-size="17.5" textLength="30.1" lengthAdjust="spacingAndGlyphs" transform="rotate(0.9 1272.5 1391)">F74</text>
<text x="1329.2" y="1384" font-size="17.5" textLength="9.1" lengthAdjust="spacingAndGlyphs" transform="rotate(0.9 1330 1384)">4</text>
<circle cx="1324.5" cy="1392.3" r="4" stroke-width="2.2" fill="#fff"/>
<path d="M1287.9 1399.9L1357.1 1401L1355.1 1484.2L1285.9 1483.1Z" stroke-width="5.8" fill="none" stroke-linejoin="miter"/>
<text x="1315.2" y="1415" font-size="17.5" textLength="19.6" lengthAdjust="spacingAndGlyphs" transform="rotate(0.9 1316 1415)">PR</text>
<text x="1273.2" y="1419" font-size="17.5" textLength="10.1" lengthAdjust="spacingAndGlyphs" transform="rotate(0.9 1274 1419)">2</text>
<text x="1291.7" y="1429" font-size="17.5" textLength="11.6" lengthAdjust="spacingAndGlyphs" transform="rotate(0.9 1292.5 1429)">D</text>
<text x="1343.2" y="1429" font-size="17.5" textLength="10.1" lengthAdjust="spacingAndGlyphs" transform="rotate(0.9 1344 1429)">Q</text>
<text x="1363.2" y="1420" font-size="17.5" textLength="10.1" lengthAdjust="spacingAndGlyphs" transform="rotate(0.9 1364 1420)">5</text>
<text x="1273.2" y="1455" font-size="17.5" textLength="10.1" lengthAdjust="spacingAndGlyphs" transform="rotate(0.9 1274 1455)">3</text>
<text x="1291.7" y="1464" font-size="17.5" textLength="20.1" lengthAdjust="spacingAndGlyphs" transform="rotate(0.9 1292.5 1464)">CK</text>
<text x="1333.2" y="1464" font-size="17.5" textLength="20.1" lengthAdjust="spacingAndGlyphs" transform="rotate(0.9 1334 1464)">QN</text>
<text x="1363.2" y="1456" font-size="17.5" textLength="10.1" lengthAdjust="spacingAndGlyphs" transform="rotate(0.9 1364 1456)">6</text>
<text x="1306.7" y="1482.5" font-size="17.5" textLength="29.1" lengthAdjust="spacingAndGlyphs" transform="rotate(0.9 1307.5 1482.5)">CLR</text>
<path d="M1287 1423L1226 1422" stroke-width="3.3"/>
<path d="M1226 1422L1225.6 1490" stroke-width="2.7"/>
<path d="M1216 1493.1L1234.5 1493.5" stroke-width="3"/>
<path d="M1220.5 1493.3L1216.5 1502.3" stroke-width="2.4"/>
<path d="M1229.5 1493.3L1224.5 1502.8" stroke-width="2.4"/>
<text x="1208.2" y="1515" font-size="17.5" textLength="31.6" lengthAdjust="spacingAndGlyphs" transform="rotate(0.9 1209 1515)">GND</text>
<path d="M1360 1424.5L1444 1426" stroke-width="3.3"/>
<path d="M1442.5 1420.3L1459.7 1420.6" stroke-width="3.3"/>
<path d="M1459.7 1420.6L1459.4 1431.5" stroke-width="2.7"/>
<path d="M1459.4 1431.5L1442.2 1431.2" stroke-width="3.3"/>
<text x="1466.7" y="1432.5" font-size="17.5" textLength="49.1" lengthAdjust="spacingAndGlyphs" transform="rotate(0.9 1467.5 1432.5)">/IPL2</text>
<path d="M1360 1460L1375 1460.2" stroke-width="3.3"/>
<text x="1100.2" y="1462.5" font-size="17.5" textLength="41.6" lengthAdjust="spacingAndGlyphs" transform="rotate(0.9 1101 1462.5)">V-BL</text>
<path d="M1147.3 1450.8L1162.7 1451L1162.4 1462.9L1147 1462.7Z" stroke-width="2.6" fill="none" stroke-linejoin="round"/>
<path d="M1164 1455.5L1287 1457.5" stroke-width="3.3"/>
<circle cx="1322" cy="1491" r="3.8" stroke-width="2.2" fill="#fff"/>
<path d="M1321.2 1495L1319.5 1556" stroke-width="2.3"/>
<text x="1325.2" y="1510" font-size="17.5" textLength="9.6" lengthAdjust="spacingAndGlyphs" transform="rotate(0.9 1326 1510)">1</text>
<path d="M1310 1557.9L1329 1558.1" stroke-width="3"/>
<circle cx="1319.5" cy="1558" r="3.2" stroke-width="1.8" fill="#fff"/>
<text x="1304.2" y="1580" font-size="17.5" textLength="30.6" lengthAdjust="spacingAndGlyphs" transform="rotate(0.9 1305 1580)">+5V</text>
<text transform="translate(2697 1866) rotate(1.75)" font-size="25" textLength="195" lengthAdjust="spacingAndGlyphs">CPU SCHEMATIC</text>
<path d="M2970.5 1358L2960 1941" stroke-width="1.1" stroke="#8a8a8a"/>
<text x="2911" y="1958" font-size="36" style="font-family:'Liberation Sans';font-style:italic">5</text>
<path d="M0 330.5L19 330.5" stroke-width="1.2" stroke="#9a9a9a"/>
</g></svg></body></html>
